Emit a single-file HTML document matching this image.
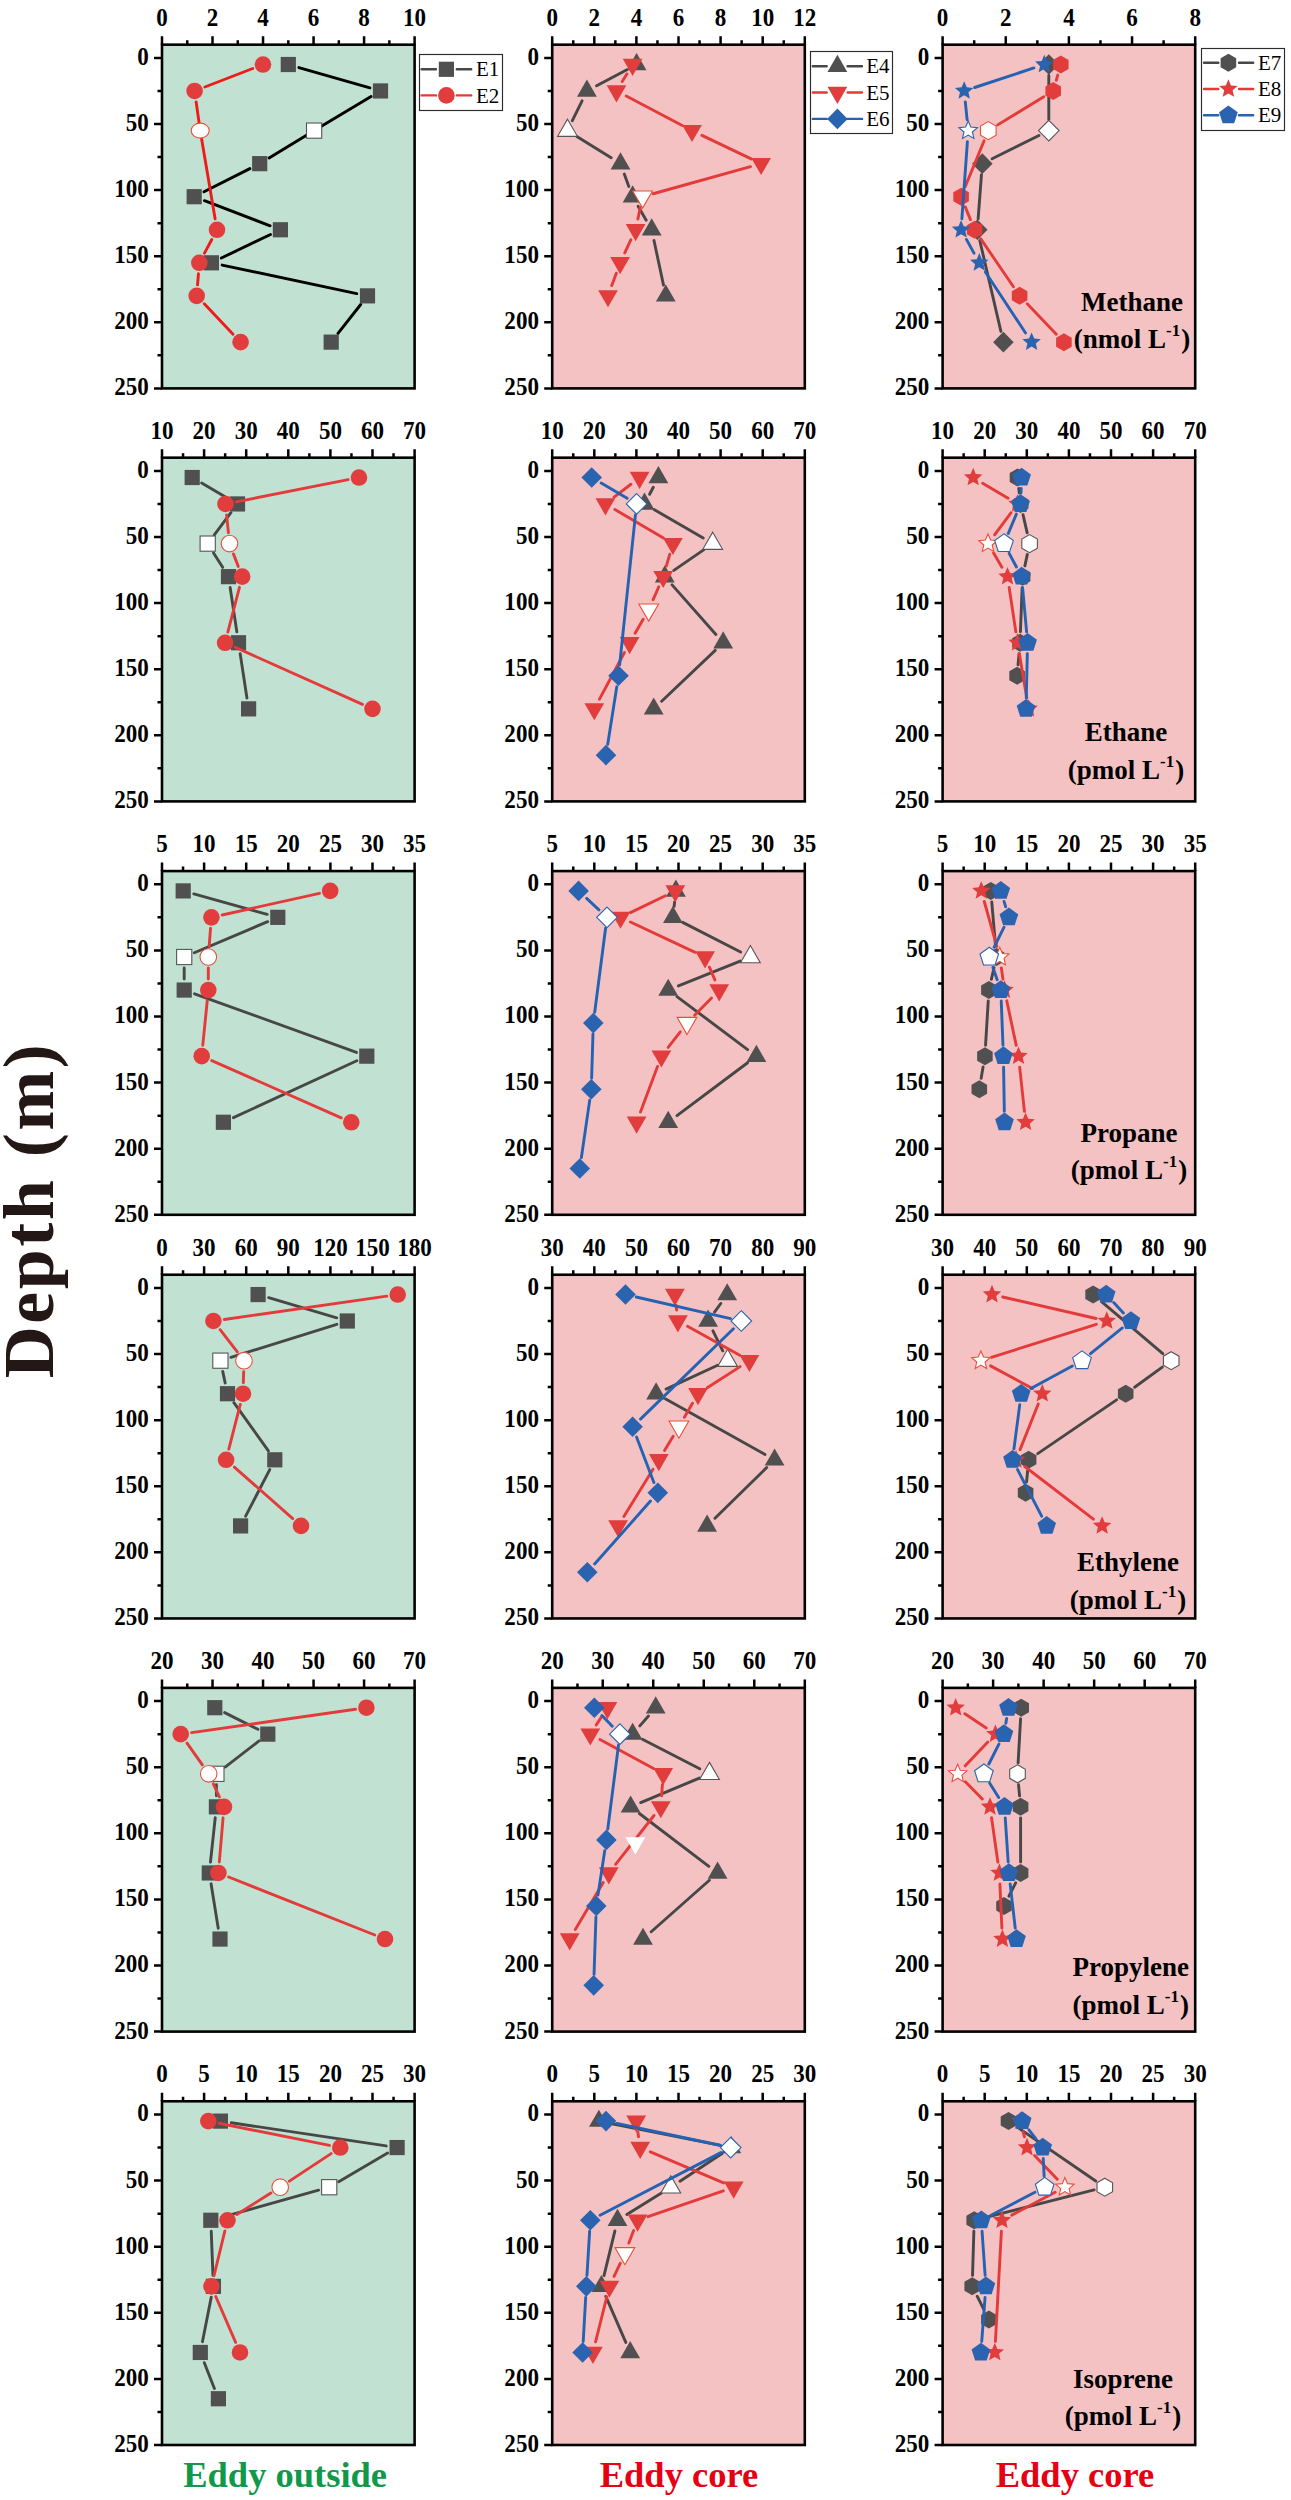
<!DOCTYPE html>
<html><head><meta charset="utf-8"><title>Depth profiles</title>
<style>html,body{margin:0;padding:0;background:#fff;}body{width:1291px;height:2500px;overflow:hidden;}svg{display:block;}</style>
</head><body>
<svg width="1291" height="2500" viewBox="0 0 1291 2500">
<rect width="1291" height="2500" fill="#fff"/>
<rect x="162" y="44.68" width="252.6" height="343.72" fill="#c1e2d3"/>
<path d="M298.87 67.54L369.93 87.92M371.06 96.59L320.11 127.02M308.12 134.24L269.1 157.95M249.88 168.62L204.02 191.75M204.47 200.65L270.13 225.82M270.48 234.51L221.32 258.06M222.16 265.09L356.74 293.58M360.71 304.51L337.99 333.48" stroke="#000000" stroke-width="2.9" stroke-linecap="round" fill="none"/>
<rect x="280.7" y="56.91" width="15.2" height="15.2" fill="#505050"/>
<rect x="372.9" y="83.35" width="15.2" height="15.2" fill="#505050"/>
<rect x="306.5" y="123.01" width="15.2" height="15.2" fill="#fff" stroke="#555" stroke-width="1.1"/>
<rect x="252.1" y="156.06" width="15.2" height="15.2" fill="#505050"/>
<rect x="186.6" y="189.11" width="15.2" height="15.2" fill="#505050"/>
<rect x="272.8" y="222.16" width="15.2" height="15.2" fill="#505050"/>
<rect x="203.8" y="255.21" width="15.2" height="15.2" fill="#505050"/>
<rect x="359.9" y="288.26" width="15.2" height="15.2" fill="#505050"/>
<rect x="323.6" y="334.53" width="15.2" height="15.2" fill="#505050"/>
<path d="M252.74 68.48L204.86 86.98M196.14 101.84L199.22 123.68M201.37 137.51L215.16 218.91M211.81 239.46L204.49 253.11M198.44 273.78L197.56 284.89M204.27 303.84L233.03 334.15" stroke="#ee1b1b" stroke-width="2.9" stroke-linecap="round" fill="none"/>
<circle cx="263" cy="64.51" r="8.3" fill="#e23d3d"/>
<circle cx="194.6" cy="90.95" r="8.3" fill="#e23d3d"/>
<ellipse cx="200.2" cy="130.61" rx="9" ry="7.5" fill="#fff" stroke="#e8503a" stroke-width="1.1"/>
<circle cx="217" cy="229.76" r="8.3" fill="#e23d3d"/>
<circle cx="199.3" cy="262.81" r="8.3" fill="#e23d3d"/>
<circle cx="196.7" cy="295.86" r="8.3" fill="#e23d3d"/>
<circle cx="240.6" cy="342.13" r="8.3" fill="#e23d3d"/>
<rect x="162" y="44.68" width="252.6" height="343.72" fill="none" stroke="#000" stroke-width="2.6"/>
<path d="M162 44.68V36.18M187.26 44.68V40.18M212.52 44.68V36.18M237.78 44.68V40.18M263.04 44.68V36.18M288.3 44.68V40.18M313.56 44.68V36.18M338.82 44.68V40.18M364.08 44.68V36.18M389.34 44.68V40.18M414.6 44.68V36.18M162 57.9H154M162 90.95H157.5M162 124H154M162 157.05H157.5M162 190.1H154M162 223.15H157.5M162 256.2H154M162 289.25H157.5M162 322.3H154M162 355.35H157.5M162 388.4H154" stroke="#000" stroke-width="2.5" fill="none"/>
<g font-family="Liberation Serif, serif" font-weight="bold" font-size="24" fill="#000">
<text transform="translate(162 25.78) scale(0.96 1.07)" text-anchor="middle">0</text>
<text transform="translate(212.52 25.78) scale(0.96 1.07)" text-anchor="middle">2</text>
<text transform="translate(263.04 25.78) scale(0.96 1.07)" text-anchor="middle">4</text>
<text transform="translate(313.56 25.78) scale(0.96 1.07)" text-anchor="middle">6</text>
<text transform="translate(364.08 25.78) scale(0.96 1.07)" text-anchor="middle">8</text>
<text transform="translate(414.6 25.78) scale(0.96 1.07)" text-anchor="middle">10</text>
<text transform="translate(148.7 64.8) scale(0.96 1.07)" text-anchor="end">0</text>
<text transform="translate(148.7 130.9) scale(0.96 1.07)" text-anchor="end">50</text>
<text transform="translate(148.7 197) scale(0.96 1.07)" text-anchor="end">100</text>
<text transform="translate(148.7 263.1) scale(0.96 1.07)" text-anchor="end">150</text>
<text transform="translate(148.7 329.2) scale(0.96 1.07)" text-anchor="end">200</text>
<text transform="translate(148.7 395.3) scale(0.96 1.07)" text-anchor="end">250</text>
</g>
<rect x="552.2" y="44.68" width="252.6" height="343.72" fill="#f4c2c3"/>
<path d="M626.89 69.68L596.61 85.78M582.07 100.83L572.33 120.73M576.83 136.43L611.17 157.84M624.28 173.99L628.82 186.38M638.1 206.23L646.2 220.24M653.99 240.52L663.51 285.1" stroke="#474747" stroke-width="2.9" stroke-linecap="round" fill="none"/>
<polygon points="636.6,53.08 646.5,70.23 626.7,70.23" fill="#505050"/>
<polygon points="586.9,79.52 596.8,96.67 577,96.67" fill="#505050"/>
<polygon points="567.5,119.18 577.4,136.33 557.6,136.33" fill="#fff" stroke="#555" stroke-width="1.1"/>
<polygon points="620.5,152.23 630.4,169.38 610.6,169.38" fill="#505050"/>
<polygon points="632.6,185.28 642.5,202.43 622.7,202.43" fill="#505050"/>
<polygon points="651.7,218.33 661.6,235.48 641.8,235.48" fill="#505050"/>
<polygon points="665.8,284.43 675.7,301.58 655.9,301.58" fill="#505050"/>
<path d="M626.88 73.91L622.22 81.55M626.24 96.07L682.26 125.49M701.92 135.36L751.18 158.91M750.5 166.62L653.2 193.75M640.32 207.47L637.88 219M630.93 239.72L624.77 252.85M616.32 273.14L611.78 285.53" stroke="#e43a3a" stroke-width="2.9" stroke-linecap="round" fill="none"/>
<polygon points="632.6,75.94 642.5,58.79 622.7,58.79" fill="#e23d3d"/>
<polygon points="616.5,102.38 626.4,85.23 606.6,85.23" fill="#e23d3d"/>
<polygon points="692,142.04 701.9,124.89 682.1,124.89" fill="#e23d3d"/>
<polygon points="761.1,175.09 771,157.94 751.2,157.94" fill="#e23d3d"/>
<polygon points="642.6,208.14 652.5,190.99 632.7,190.99" fill="#fff" stroke="#e8503a" stroke-width="1.1"/>
<polygon points="635.6,241.19 645.5,224.04 625.7,224.04" fill="#e23d3d"/>
<polygon points="620.1,274.24 630,257.09 610.2,257.09" fill="#e23d3d"/>
<polygon points="608,307.29 617.9,290.14 598.1,290.14" fill="#e23d3d"/>
<rect x="552.2" y="44.68" width="252.6" height="343.72" fill="none" stroke="#000" stroke-width="2.6"/>
<path d="M552.2 44.68V36.18M573.25 44.68V40.18M594.3 44.68V36.18M615.35 44.68V40.18M636.4 44.68V36.18M657.45 44.68V40.18M678.5 44.68V36.18M699.55 44.68V40.18M720.6 44.68V36.18M741.65 44.68V40.18M762.7 44.68V36.18M783.75 44.68V40.18M804.8 44.68V36.18M552.2 57.9H544.2M552.2 90.95H547.7M552.2 124H544.2M552.2 157.05H547.7M552.2 190.1H544.2M552.2 223.15H547.7M552.2 256.2H544.2M552.2 289.25H547.7M552.2 322.3H544.2M552.2 355.35H547.7M552.2 388.4H544.2" stroke="#000" stroke-width="2.5" fill="none"/>
<g font-family="Liberation Serif, serif" font-weight="bold" font-size="24" fill="#000">
<text transform="translate(552.2 25.78) scale(0.96 1.07)" text-anchor="middle">0</text>
<text transform="translate(594.3 25.78) scale(0.96 1.07)" text-anchor="middle">2</text>
<text transform="translate(636.4 25.78) scale(0.96 1.07)" text-anchor="middle">4</text>
<text transform="translate(678.5 25.78) scale(0.96 1.07)" text-anchor="middle">6</text>
<text transform="translate(720.6 25.78) scale(0.96 1.07)" text-anchor="middle">8</text>
<text transform="translate(762.7 25.78) scale(0.96 1.07)" text-anchor="middle">10</text>
<text transform="translate(804.8 25.78) scale(0.96 1.07)" text-anchor="middle">12</text>
<text transform="translate(538.9 64.8) scale(0.96 1.07)" text-anchor="end">0</text>
<text transform="translate(538.9 130.9) scale(0.96 1.07)" text-anchor="end">50</text>
<text transform="translate(538.9 197) scale(0.96 1.07)" text-anchor="end">100</text>
<text transform="translate(538.9 263.1) scale(0.96 1.07)" text-anchor="end">150</text>
<text transform="translate(538.9 329.2) scale(0.96 1.07)" text-anchor="end">200</text>
<text transform="translate(538.9 395.3) scale(0.96 1.07)" text-anchor="end">250</text>
</g>
<rect x="942.6" y="44.68" width="252.6" height="343.72" fill="#f4c2c3"/>
<path d="M1048.8 75.51L1048.8 119.61M1038.95 135.51L992.15 158.76M981.47 174.63L978.13 218.79M979.79 240.47L1000.91 331.42" stroke="#474747" stroke-width="2.9" stroke-linecap="round" fill="none"/>
<polygon points="1048.8,54.21 1059.1,64.51 1048.8,74.81 1038.5,64.51" fill="#505050"/>
<polygon points="1048.8,120.31 1059.1,130.61 1048.8,140.91 1038.5,130.61" fill="#fff" stroke="#555" stroke-width="1.1"/>
<polygon points="982.3,153.36 992.6,163.66 982.3,173.96 972,163.66" fill="#505050"/>
<polygon points="977.3,219.46 987.6,229.76 977.3,240.06 967,229.76" fill="#505050"/>
<polygon points="1003.4,331.83 1013.7,342.13 1003.4,352.43 993.1,342.13" fill="#505050"/>
<path d="M1057.76 75.08L1056.24 80.38M1043.81 96.69L997.69 124.87M984.11 140.78L965.29 186.54M965.26 206.89L970.44 219.58M980.79 238.85L1013.41 286.77M1027.21 303.81L1056.29 334.18" stroke="#e43a3a" stroke-width="2.9" stroke-linecap="round" fill="none"/>
<polygon points="1060.8,55.51 1068.59,60.01 1068.59,69.01 1060.8,73.51 1053.01,69.01 1053.01,60.01" fill="#e23d3d"/>
<polygon points="1053.2,81.95 1060.99,86.45 1060.99,95.45 1053.2,99.95 1045.41,95.45 1045.41,86.45" fill="#e23d3d"/>
<polygon points="988.3,121.61 996.09,126.11 996.09,135.11 988.3,139.61 980.51,135.11 980.51,126.11" fill="#fff" stroke="#e8503a" stroke-width="1.1"/>
<polygon points="961.1,187.71 968.89,192.21 968.89,201.21 961.1,205.71 953.31,201.21 953.31,192.21" fill="#e23d3d"/>
<polygon points="974.6,220.76 982.39,225.26 982.39,234.26 974.6,238.76 966.81,234.26 966.81,225.26" fill="#e23d3d"/>
<polygon points="1019.6,286.86 1027.39,291.36 1027.39,300.36 1019.6,304.86 1011.81,300.36 1011.81,291.36" fill="#e23d3d"/>
<polygon points="1063.9,333.13 1071.69,337.63 1071.69,346.63 1063.9,351.13 1056.11,346.63 1056.11,337.63" fill="#e23d3d"/>
<path d="M1033.85 67.96L974.65 87.5M965.3 101.89L967.1 119.67M967.41 141.58L961.89 218.79M966.41 239.4L973.99 253.17M985.36 271.99L1025.54 332.95" stroke="#2462b3" stroke-width="2.9" stroke-linecap="round" fill="none"/>
<polygon points="1044.3,54.81 1046.9,60.93 1053.53,61.51 1048.51,65.88 1050,72.36 1044.3,68.93 1038.6,72.36 1040.09,65.88 1035.07,61.51 1041.7,60.93" fill="#2a63b0"/>
<polygon points="964.2,81.25 966.8,87.37 973.43,87.95 968.41,92.32 969.9,98.8 964.2,95.37 958.5,98.8 959.99,92.32 954.97,87.95 961.6,87.37" fill="#2a63b0"/>
<polygon points="968.2,120.91 970.8,127.03 977.43,127.61 972.41,131.98 973.9,138.46 968.2,135.03 962.5,138.46 963.99,131.98 958.97,127.61 965.6,127.03" fill="#fff" stroke="#2a63b0" stroke-width="1.1"/>
<polygon points="961.1,220.06 963.7,226.18 970.33,226.76 965.31,231.13 966.8,237.61 961.1,234.18 955.4,237.61 956.89,231.13 951.87,226.76 958.5,226.18" fill="#2a63b0"/>
<polygon points="979.3,253.11 981.9,259.23 988.53,259.81 983.51,264.18 985,270.66 979.3,267.23 973.6,270.66 975.09,264.18 970.07,259.81 976.7,259.23" fill="#2a63b0"/>
<polygon points="1031.6,332.43 1034.2,338.55 1040.83,339.13 1035.81,343.5 1037.3,349.98 1031.6,346.55 1025.9,349.98 1027.39,343.5 1022.37,339.13 1029,338.55" fill="#2a63b0"/>
<rect x="942.6" y="44.68" width="252.6" height="343.72" fill="none" stroke="#000" stroke-width="2.6"/>
<path d="M942.6 44.68V36.18M974.18 44.68V40.18M1005.75 44.68V36.18M1037.33 44.68V40.18M1068.9 44.68V36.18M1100.47 44.68V40.18M1132.05 44.68V36.18M1163.62 44.68V40.18M1195.2 44.68V36.18M942.6 57.9H934.6M942.6 90.95H938.1M942.6 124H934.6M942.6 157.05H938.1M942.6 190.1H934.6M942.6 223.15H938.1M942.6 256.2H934.6M942.6 289.25H938.1M942.6 322.3H934.6M942.6 355.35H938.1M942.6 388.4H934.6" stroke="#000" stroke-width="2.5" fill="none"/>
<g font-family="Liberation Serif, serif" font-weight="bold" font-size="24" fill="#000">
<text transform="translate(942.6 25.78) scale(0.96 1.07)" text-anchor="middle">0</text>
<text transform="translate(1005.75 25.78) scale(0.96 1.07)" text-anchor="middle">2</text>
<text transform="translate(1068.9 25.78) scale(0.96 1.07)" text-anchor="middle">4</text>
<text transform="translate(1132.05 25.78) scale(0.96 1.07)" text-anchor="middle">6</text>
<text transform="translate(1195.2 25.78) scale(0.96 1.07)" text-anchor="middle">8</text>
<text transform="translate(929.3 64.8) scale(0.96 1.07)" text-anchor="end">0</text>
<text transform="translate(929.3 130.9) scale(0.96 1.07)" text-anchor="end">50</text>
<text transform="translate(929.3 197) scale(0.96 1.07)" text-anchor="end">100</text>
<text transform="translate(929.3 263.1) scale(0.96 1.07)" text-anchor="end">150</text>
<text transform="translate(929.3 329.2) scale(0.96 1.07)" text-anchor="end">200</text>
<text transform="translate(929.3 395.3) scale(0.96 1.07)" text-anchor="end">250</text>
</g>
<g font-family="Liberation Serif, serif" font-weight="bold" font-size="27" fill="#000" text-anchor="middle">
<text x="1132" y="311">Methane</text>
<text x="1132" y="347.7">(nmol L<tspan font-size="17" dy="-11.8">-1</tspan><tspan dy="11.8" dx="1">)</tspan></text>
</g>
<rect x="162" y="457.68" width="252.6" height="343.72" fill="#c1e2d3"/>
<path d="M201.7 483.05L228 498.41M230.89 512.74L214.31 534.82M213.56 552.92L222.64 567.35M230.15 587.54L236.85 631.88M240.16 653.63L246.94 697.99" stroke="#474747" stroke-width="2.9" stroke-linecap="round" fill="none"/>
<rect x="184.6" y="469.91" width="15.2" height="15.2" fill="#505050"/>
<rect x="229.9" y="496.35" width="15.2" height="15.2" fill="#505050"/>
<rect x="200.1" y="536.01" width="15.2" height="15.2" fill="#fff" stroke="#555" stroke-width="1.1"/>
<rect x="220.9" y="569.06" width="15.2" height="15.2" fill="#505050"/>
<rect x="230.9" y="635.16" width="15.2" height="15.2" fill="#505050"/>
<rect x="241" y="701.26" width="15.2" height="15.2" fill="#505050"/>
<path d="M348.21 479.65L236.29 501.81M226.6 514.89L228.4 532.67M233.45 553.88L238.25 566.39M239.45 587.31L227.85 632.11M235.14 647.26L362.46 704.36" stroke="#e43a3a" stroke-width="2.9" stroke-linecap="round" fill="none"/>
<circle cx="359" cy="477.51" r="8.3" fill="#e23d3d"/>
<circle cx="225.5" cy="503.95" r="8.3" fill="#e23d3d"/>
<circle cx="229.5" cy="543.61" r="8.3" fill="#fff" stroke="#e8503a" stroke-width="1.1"/>
<circle cx="242.2" cy="576.66" r="8.3" fill="#e23d3d"/>
<circle cx="225.1" cy="642.76" r="8.3" fill="#e23d3d"/>
<circle cx="372.5" cy="708.86" r="8.3" fill="#e23d3d"/>
<rect x="162" y="457.68" width="252.6" height="343.72" fill="none" stroke="#000" stroke-width="2.6"/>
<path d="M162 457.68V449.18M183.05 457.68V453.18M204.1 457.68V449.18M225.15 457.68V453.18M246.2 457.68V449.18M267.25 457.68V453.18M288.3 457.68V449.18M309.35 457.68V453.18M330.4 457.68V449.18M351.45 457.68V453.18M372.5 457.68V449.18M393.55 457.68V453.18M414.6 457.68V449.18M162 470.9H154M162 503.95H157.5M162 537H154M162 570.05H157.5M162 603.1H154M162 636.15H157.5M162 669.2H154M162 702.25H157.5M162 735.3H154M162 768.35H157.5M162 801.4H154" stroke="#000" stroke-width="2.5" fill="none"/>
<g font-family="Liberation Serif, serif" font-weight="bold" font-size="24" fill="#000">
<text transform="translate(162 438.78) scale(0.96 1.07)" text-anchor="middle">10</text>
<text transform="translate(204.1 438.78) scale(0.96 1.07)" text-anchor="middle">20</text>
<text transform="translate(246.2 438.78) scale(0.96 1.07)" text-anchor="middle">30</text>
<text transform="translate(288.3 438.78) scale(0.96 1.07)" text-anchor="middle">40</text>
<text transform="translate(330.4 438.78) scale(0.96 1.07)" text-anchor="middle">50</text>
<text transform="translate(372.5 438.78) scale(0.96 1.07)" text-anchor="middle">60</text>
<text transform="translate(414.6 438.78) scale(0.96 1.07)" text-anchor="middle">70</text>
<text transform="translate(148.7 477.8) scale(0.96 1.07)" text-anchor="end">0</text>
<text transform="translate(148.7 543.9) scale(0.96 1.07)" text-anchor="end">50</text>
<text transform="translate(148.7 610) scale(0.96 1.07)" text-anchor="end">100</text>
<text transform="translate(148.7 676.1) scale(0.96 1.07)" text-anchor="end">150</text>
<text transform="translate(148.7 742.2) scale(0.96 1.07)" text-anchor="end">200</text>
<text transform="translate(148.7 808.3) scale(0.96 1.07)" text-anchor="end">250</text>
</g>
<rect x="552.2" y="457.68" width="252.6" height="343.72" fill="#f4c2c3"/>
<path d="M653.28 487.25L649.62 494.21M654.01 509.48L703.19 538.08M703.65 549.86L673.85 570.41M672.08 584.9L715.92 634.52M715.23 650.34L661.67 701.28" stroke="#474747" stroke-width="2.9" stroke-linecap="round" fill="none"/>
<polygon points="658.4,466.08 668.3,483.23 648.5,483.23" fill="#505050"/>
<polygon points="644.5,492.52 654.4,509.67 634.6,509.67" fill="#505050"/>
<polygon points="712.7,532.18 722.6,549.33 702.8,549.33" fill="#fff" stroke="#555" stroke-width="1.1"/>
<polygon points="664.8,565.23 674.7,582.38 654.9,582.38" fill="#505050"/>
<polygon points="723.2,631.33 733.1,648.48 713.3,648.48" fill="#505050"/>
<polygon points="653.7,697.43 663.6,714.58 643.8,714.58" fill="#505050"/>
<path d="M630.9 484.24L614.1 497.22M614.88 509.52L663.42 538.04M669.8 554.16L666.3 566.11M658.78 586.73L653.12 599.64M643.2 619.23L635.1 633.24M624.42 652.46L599.48 699.16" stroke="#e43a3a" stroke-width="2.9" stroke-linecap="round" fill="none"/>
<polygon points="639.6,488.94 649.5,471.79 629.7,471.79" fill="#e23d3d"/>
<polygon points="605.4,515.38 615.3,498.23 595.5,498.23" fill="#e23d3d"/>
<polygon points="672.9,555.04 682.8,537.89 663,537.89" fill="#e23d3d"/>
<polygon points="663.2,588.09 673.1,570.94 653.3,570.94" fill="#e23d3d"/>
<polygon points="648.7,621.14 658.6,603.99 638.8,603.99" fill="#fff" stroke="#e8503a" stroke-width="1.1"/>
<polygon points="629.6,654.19 639.5,637.04 619.7,637.04" fill="#e23d3d"/>
<polygon points="594.3,720.29 604.2,703.14 584.4,703.14" fill="#e23d3d"/>
<path d="M601.18 483.09L627.12 498.37M635.45 514.89L619.65 664.87M616.79 686.68L607.71 744.26" stroke="#2462b3" stroke-width="2.9" stroke-linecap="round" fill="none"/>
<polygon points="591.7,467.21 602,477.51 591.7,487.81 581.4,477.51" fill="#2a63b0"/>
<polygon points="636.6,493.65 646.9,503.95 636.6,514.25 626.3,503.95" fill="#fff" stroke="#2a63b0" stroke-width="1.1"/>
<polygon points="618.5,665.51 628.8,675.81 618.5,686.11 608.2,675.81" fill="#2a63b0"/>
<polygon points="606,744.83 616.3,755.13 606,765.43 595.7,755.13" fill="#2a63b0"/>
<rect x="552.2" y="457.68" width="252.6" height="343.72" fill="none" stroke="#000" stroke-width="2.6"/>
<path d="M552.2 457.68V449.18M573.25 457.68V453.18M594.3 457.68V449.18M615.35 457.68V453.18M636.4 457.68V449.18M657.45 457.68V453.18M678.5 457.68V449.18M699.55 457.68V453.18M720.6 457.68V449.18M741.65 457.68V453.18M762.7 457.68V449.18M783.75 457.68V453.18M804.8 457.68V449.18M552.2 470.9H544.2M552.2 503.95H547.7M552.2 537H544.2M552.2 570.05H547.7M552.2 603.1H544.2M552.2 636.15H547.7M552.2 669.2H544.2M552.2 702.25H547.7M552.2 735.3H544.2M552.2 768.35H547.7M552.2 801.4H544.2" stroke="#000" stroke-width="2.5" fill="none"/>
<g font-family="Liberation Serif, serif" font-weight="bold" font-size="24" fill="#000">
<text transform="translate(552.2 438.78) scale(0.96 1.07)" text-anchor="middle">10</text>
<text transform="translate(594.3 438.78) scale(0.96 1.07)" text-anchor="middle">20</text>
<text transform="translate(636.4 438.78) scale(0.96 1.07)" text-anchor="middle">30</text>
<text transform="translate(678.5 438.78) scale(0.96 1.07)" text-anchor="middle">40</text>
<text transform="translate(720.6 438.78) scale(0.96 1.07)" text-anchor="middle">50</text>
<text transform="translate(762.7 438.78) scale(0.96 1.07)" text-anchor="middle">60</text>
<text transform="translate(804.8 438.78) scale(0.96 1.07)" text-anchor="middle">70</text>
<text transform="translate(538.9 477.8) scale(0.96 1.07)" text-anchor="end">0</text>
<text transform="translate(538.9 543.9) scale(0.96 1.07)" text-anchor="end">50</text>
<text transform="translate(538.9 610) scale(0.96 1.07)" text-anchor="end">100</text>
<text transform="translate(538.9 676.1) scale(0.96 1.07)" text-anchor="end">150</text>
<text transform="translate(538.9 742.2) scale(0.96 1.07)" text-anchor="end">200</text>
<text transform="translate(538.9 808.3) scale(0.96 1.07)" text-anchor="end">250</text>
</g>
<rect x="942.6" y="457.68" width="252.6" height="343.72" fill="#f4c2c3"/>
<path d="M1018.78 488.44L1019.32 493.02M1023.03 514.68L1027.17 532.88M1027.32 554.37L1024.88 565.9M1022.17 587.65L1020.43 631.77M1019.04 653.72L1018.06 664.85" stroke="#474747" stroke-width="2.9" stroke-linecap="round" fill="none"/>
<polygon points="1017.5,468.51 1025.29,473.01 1025.29,482.01 1017.5,486.51 1009.71,482.01 1009.71,473.01" fill="#505050"/>
<polygon points="1020.6,494.95 1028.39,499.45 1028.39,508.45 1020.6,512.95 1012.81,508.45 1012.81,499.45" fill="#505050"/>
<polygon points="1029.6,534.61 1037.39,539.11 1037.39,548.11 1029.6,552.61 1021.81,548.11 1021.81,539.11" fill="#fff" stroke="#555" stroke-width="1.1"/>
<polygon points="1022.6,567.66 1030.39,572.16 1030.39,581.16 1022.6,585.66 1014.81,581.16 1014.81,572.16" fill="#505050"/>
<polygon points="1020,633.76 1027.79,638.26 1027.79,647.26 1020,651.76 1012.21,647.26 1012.21,638.26" fill="#505050"/>
<polygon points="1017.1,666.81 1024.89,671.31 1024.89,680.31 1017.1,684.81 1009.31,680.31 1009.31,671.31" fill="#505050"/>
<path d="M982.65 483.15L1008.05 498.31M1010.93 512.78L994.57 534.78M993.59 553.08L1001.91 567.19M1009.15 587.54L1015.85 631.88M1019.32 653.61L1026.78 698.01" stroke="#e43a3a" stroke-width="2.9" stroke-linecap="round" fill="none"/>
<polygon points="973.2,467.81 975.8,473.93 982.43,474.51 977.41,478.88 978.9,485.36 973.2,481.93 967.5,485.36 968.99,478.88 963.97,474.51 970.6,473.93" fill="#e23d3d"/>
<polygon points="1017.5,494.25 1020.1,500.37 1026.73,500.95 1021.71,505.32 1023.2,511.8 1017.5,508.37 1011.8,511.8 1013.29,505.32 1008.27,500.95 1014.9,500.37" fill="#e23d3d"/>
<polygon points="988,533.91 990.6,540.03 997.23,540.61 992.21,544.98 993.7,551.46 988,548.03 982.3,551.46 983.79,544.98 978.77,540.61 985.4,540.03" fill="#fff" stroke="#e8503a" stroke-width="1.1"/>
<polygon points="1007.5,566.96 1010.1,573.08 1016.73,573.66 1011.71,578.03 1013.2,584.51 1007.5,581.08 1001.8,584.51 1003.29,578.03 998.27,573.66 1004.9,573.08" fill="#e23d3d"/>
<polygon points="1017.5,633.06 1020.1,639.18 1026.73,639.76 1021.71,644.13 1023.2,650.61 1017.5,647.18 1011.8,650.61 1013.29,644.13 1008.27,639.76 1014.9,639.18" fill="#e23d3d"/>
<polygon points="1028.6,699.16 1031.2,705.28 1037.83,705.86 1032.81,710.23 1034.3,716.71 1028.6,713.28 1022.9,716.71 1024.39,710.23 1019.37,705.86 1026,705.28" fill="#e23d3d"/>
<path d="M1021.18 488.5L1021.02 492.96M1016.35 514.1L1008.25 533.46M1009.17 553.32L1016.43 566.95M1022.59 587.61L1026.61 631.81M1027.33 653.76L1026.27 697.86" stroke="#2462b3" stroke-width="2.9" stroke-linecap="round" fill="none"/>
<polygon points="1021.6,467.71 1030.92,474.48 1027.36,485.44 1015.84,485.44 1012.28,474.48" fill="#2a63b0"/>
<polygon points="1020.6,494.15 1029.92,500.92 1026.36,511.88 1014.84,511.88 1011.28,500.92" fill="#2a63b0"/>
<polygon points="1004,533.81 1013.32,540.58 1009.76,551.54 998.24,551.54 994.68,540.58" fill="#fff" stroke="#2a63b0" stroke-width="1.1"/>
<polygon points="1021.6,566.86 1030.92,573.63 1027.36,584.59 1015.84,584.59 1012.28,573.63" fill="#2a63b0"/>
<polygon points="1027.6,632.96 1036.92,639.73 1033.36,650.69 1021.84,650.69 1018.28,639.73" fill="#2a63b0"/>
<polygon points="1026,699.06 1035.32,705.83 1031.76,716.79 1020.24,716.79 1016.68,705.83" fill="#2a63b0"/>
<rect x="942.6" y="457.68" width="252.6" height="343.72" fill="none" stroke="#000" stroke-width="2.6"/>
<path d="M942.6 457.68V449.18M963.65 457.68V453.18M984.7 457.68V449.18M1005.75 457.68V453.18M1026.8 457.68V449.18M1047.85 457.68V453.18M1068.9 457.68V449.18M1089.95 457.68V453.18M1111 457.68V449.18M1132.05 457.68V453.18M1153.1 457.68V449.18M1174.15 457.68V453.18M1195.2 457.68V449.18M942.6 470.9H934.6M942.6 503.95H938.1M942.6 537H934.6M942.6 570.05H938.1M942.6 603.1H934.6M942.6 636.15H938.1M942.6 669.2H934.6M942.6 702.25H938.1M942.6 735.3H934.6M942.6 768.35H938.1M942.6 801.4H934.6" stroke="#000" stroke-width="2.5" fill="none"/>
<g font-family="Liberation Serif, serif" font-weight="bold" font-size="24" fill="#000">
<text transform="translate(942.6 438.78) scale(0.96 1.07)" text-anchor="middle">10</text>
<text transform="translate(984.7 438.78) scale(0.96 1.07)" text-anchor="middle">20</text>
<text transform="translate(1026.8 438.78) scale(0.96 1.07)" text-anchor="middle">30</text>
<text transform="translate(1068.9 438.78) scale(0.96 1.07)" text-anchor="middle">40</text>
<text transform="translate(1111 438.78) scale(0.96 1.07)" text-anchor="middle">50</text>
<text transform="translate(1153.1 438.78) scale(0.96 1.07)" text-anchor="middle">60</text>
<text transform="translate(1195.2 438.78) scale(0.96 1.07)" text-anchor="middle">70</text>
<text transform="translate(929.3 477.8) scale(0.96 1.07)" text-anchor="end">0</text>
<text transform="translate(929.3 543.9) scale(0.96 1.07)" text-anchor="end">50</text>
<text transform="translate(929.3 610) scale(0.96 1.07)" text-anchor="end">100</text>
<text transform="translate(929.3 676.1) scale(0.96 1.07)" text-anchor="end">150</text>
<text transform="translate(929.3 742.2) scale(0.96 1.07)" text-anchor="end">200</text>
<text transform="translate(929.3 808.3) scale(0.96 1.07)" text-anchor="end">250</text>
</g>
<g font-family="Liberation Serif, serif" font-weight="bold" font-size="27" fill="#000" text-anchor="middle">
<text x="1126" y="741.4">Ethane</text>
<text x="1126" y="779">(pmol L<tspan font-size="17" dy="-11.8">-1</tspan><tspan dy="11.8" dx="1">)</tspan></text>
</g>
<rect x="162" y="871.08" width="252.6" height="343.72" fill="#c1e2d3"/>
<path d="M193.79 893.87L267.21 914.39M267.67 921.64L194.33 952.72M184.2 968.01L184.2 979.06M194.54 993.8L356.46 1052.42M356.81 1060.76L233.39 1117.66" stroke="#474747" stroke-width="2.9" stroke-linecap="round" fill="none"/>
<rect x="175.6" y="883.31" width="15.2" height="15.2" fill="#505050"/>
<rect x="270.2" y="909.75" width="15.2" height="15.2" fill="#505050"/>
<rect x="176.6" y="949.41" width="15.2" height="15.2" fill="#fff" stroke="#555" stroke-width="1.1"/>
<rect x="176.6" y="982.46" width="15.2" height="15.2" fill="#505050"/>
<rect x="359.2" y="1048.56" width="15.2" height="15.2" fill="#505050"/>
<rect x="215.8" y="1114.66" width="15.2" height="15.2" fill="#505050"/>
<path d="M319.46 893.3L222.14 914.96M210.54 928.32L209.16 946.04M208.3 968.01L208.3 979.06M207.21 1001.01L202.79 1045.21M211.76 1060.61L341.24 1117.81" stroke="#e43a3a" stroke-width="2.9" stroke-linecap="round" fill="none"/>
<circle cx="330.2" cy="890.91" r="8.3" fill="#e23d3d"/>
<circle cx="211.4" cy="917.35" r="8.3" fill="#e23d3d"/>
<circle cx="208.3" cy="957.01" r="8.3" fill="#fff" stroke="#e8503a" stroke-width="1.1"/>
<circle cx="208.3" cy="990.06" r="8.3" fill="#e23d3d"/>
<circle cx="201.7" cy="1056.16" r="8.3" fill="#e23d3d"/>
<circle cx="351.3" cy="1122.26" r="8.3" fill="#e23d3d"/>
<rect x="162" y="871.08" width="252.6" height="343.72" fill="none" stroke="#000" stroke-width="2.6"/>
<path d="M162 871.08V862.58M183.05 871.08V866.58M204.1 871.08V862.58M225.15 871.08V866.58M246.2 871.08V862.58M267.25 871.08V866.58M288.3 871.08V862.58M309.35 871.08V866.58M330.4 871.08V862.58M351.45 871.08V866.58M372.5 871.08V862.58M393.55 871.08V866.58M414.6 871.08V862.58M162 884.3H154M162 917.35H157.5M162 950.4H154M162 983.45H157.5M162 1016.5H154M162 1049.55H157.5M162 1082.6H154M162 1115.65H157.5M162 1148.7H154M162 1181.75H157.5M162 1214.8H154" stroke="#000" stroke-width="2.5" fill="none"/>
<g font-family="Liberation Serif, serif" font-weight="bold" font-size="24" fill="#000">
<text transform="translate(162 852.18) scale(0.96 1.07)" text-anchor="middle">5</text>
<text transform="translate(204.1 852.18) scale(0.96 1.07)" text-anchor="middle">10</text>
<text transform="translate(246.2 852.18) scale(0.96 1.07)" text-anchor="middle">15</text>
<text transform="translate(288.3 852.18) scale(0.96 1.07)" text-anchor="middle">20</text>
<text transform="translate(330.4 852.18) scale(0.96 1.07)" text-anchor="middle">25</text>
<text transform="translate(372.5 852.18) scale(0.96 1.07)" text-anchor="middle">30</text>
<text transform="translate(414.6 852.18) scale(0.96 1.07)" text-anchor="middle">35</text>
<text transform="translate(148.7 891.2) scale(0.96 1.07)" text-anchor="end">0</text>
<text transform="translate(148.7 957.3) scale(0.96 1.07)" text-anchor="end">50</text>
<text transform="translate(148.7 1023.4) scale(0.96 1.07)" text-anchor="end">100</text>
<text transform="translate(148.7 1089.5) scale(0.96 1.07)" text-anchor="end">150</text>
<text transform="translate(148.7 1155.6) scale(0.96 1.07)" text-anchor="end">200</text>
<text transform="translate(148.7 1221.7) scale(0.96 1.07)" text-anchor="end">250</text>
</g>
<rect x="552.2" y="871.08" width="252.6" height="343.72" fill="#f4c2c3"/>
<path d="M674.66 901.84L674.14 906.42M682.69 922.36L740.61 952M740.19 961.11L678.41 985.96M677 996.66L747.6 1049.56M747.6 1062.76L677 1115.66" stroke="#474747" stroke-width="2.9" stroke-linecap="round" fill="none"/>
<polygon points="675.9,879.48 685.8,896.63 666,896.63" fill="#505050"/>
<polygon points="672.9,905.92 682.8,923.07 663,923.07" fill="#505050"/>
<polygon points="750.4,945.58 760.3,962.73 740.5,962.73" fill="#fff" stroke="#555" stroke-width="1.1"/>
<polygon points="668.2,978.63 678.1,995.78 658.3,995.78" fill="#505050"/>
<polygon points="756.4,1044.73 766.3,1061.88 746.5,1061.88" fill="#505050"/>
<polygon points="668.2,1110.83 678.1,1127.98 658.3,1127.98" fill="#505050"/>
<path d="M665.39 895.69L630.41 912.57M630.46 922.02L695.14 952.34M709.42 967.13L714.88 979.94M711.52 997.94L694.68 1015.23M680.26 1031.81L668.14 1047.46M657.54 1066.46L640.46 1111.96" stroke="#e43a3a" stroke-width="2.9" stroke-linecap="round" fill="none"/>
<polygon points="675.3,902.34 685.2,885.19 665.4,885.19" fill="#e23d3d"/>
<polygon points="620.5,928.78 630.4,911.63 610.6,911.63" fill="#e23d3d"/>
<polygon points="705.1,968.44 715,951.29 695.2,951.29" fill="#e23d3d"/>
<polygon points="719.2,1001.49 729.1,984.34 709.3,984.34" fill="#e23d3d"/>
<polygon points="687,1034.54 696.9,1017.39 677.1,1017.39" fill="#fff" stroke="#e8503a" stroke-width="1.1"/>
<polygon points="661.4,1067.59 671.3,1050.44 651.5,1050.44" fill="#e23d3d"/>
<polygon points="636.6,1133.69 646.5,1116.54 626.7,1116.54" fill="#e23d3d"/>
<path d="M586.65 898.41L598.95 909.85M605.59 928.26L594.71 1012.2M592.97 1034.1L591.63 1078.22M589.72 1100.1L581.38 1157.64" stroke="#2462b3" stroke-width="2.9" stroke-linecap="round" fill="none"/>
<polygon points="578.6,880.61 588.9,890.91 578.6,901.21 568.3,890.91" fill="#2a63b0"/>
<polygon points="607,907.05 617.3,917.35 607,927.65 596.7,917.35" fill="#fff" stroke="#2a63b0" stroke-width="1.1"/>
<polygon points="593.3,1012.81 603.6,1023.11 593.3,1033.41 583,1023.11" fill="#2a63b0"/>
<polygon points="591.3,1078.91 601.6,1089.21 591.3,1099.51 581,1089.21" fill="#2a63b0"/>
<polygon points="579.8,1158.23 590.1,1168.53 579.8,1178.83 569.5,1168.53" fill="#2a63b0"/>
<rect x="552.2" y="871.08" width="252.6" height="343.72" fill="none" stroke="#000" stroke-width="2.6"/>
<path d="M552.2 871.08V862.58M573.25 871.08V866.58M594.3 871.08V862.58M615.35 871.08V866.58M636.4 871.08V862.58M657.45 871.08V866.58M678.5 871.08V862.58M699.55 871.08V866.58M720.6 871.08V862.58M741.65 871.08V866.58M762.7 871.08V862.58M783.75 871.08V866.58M804.8 871.08V862.58M552.2 884.3H544.2M552.2 917.35H547.7M552.2 950.4H544.2M552.2 983.45H547.7M552.2 1016.5H544.2M552.2 1049.55H547.7M552.2 1082.6H544.2M552.2 1115.65H547.7M552.2 1148.7H544.2M552.2 1181.75H547.7M552.2 1214.8H544.2" stroke="#000" stroke-width="2.5" fill="none"/>
<g font-family="Liberation Serif, serif" font-weight="bold" font-size="24" fill="#000">
<text transform="translate(552.2 852.18) scale(0.96 1.07)" text-anchor="middle">5</text>
<text transform="translate(594.3 852.18) scale(0.96 1.07)" text-anchor="middle">10</text>
<text transform="translate(636.4 852.18) scale(0.96 1.07)" text-anchor="middle">15</text>
<text transform="translate(678.5 852.18) scale(0.96 1.07)" text-anchor="middle">20</text>
<text transform="translate(720.6 852.18) scale(0.96 1.07)" text-anchor="middle">25</text>
<text transform="translate(762.7 852.18) scale(0.96 1.07)" text-anchor="middle">30</text>
<text transform="translate(804.8 852.18) scale(0.96 1.07)" text-anchor="middle">35</text>
<text transform="translate(538.9 891.2) scale(0.96 1.07)" text-anchor="end">0</text>
<text transform="translate(538.9 957.3) scale(0.96 1.07)" text-anchor="end">50</text>
<text transform="translate(538.9 1023.4) scale(0.96 1.07)" text-anchor="end">100</text>
<text transform="translate(538.9 1089.5) scale(0.96 1.07)" text-anchor="end">150</text>
<text transform="translate(538.9 1155.6) scale(0.96 1.07)" text-anchor="end">200</text>
<text transform="translate(538.9 1221.7) scale(0.96 1.07)" text-anchor="end">250</text>
</g>
<rect x="942.6" y="871.08" width="252.6" height="343.72" fill="#f4c2c3"/>
<path d="M991.75 901.87L995.55 946.05M994.03 967.73L991.37 979.34M988.24 1001.04L985.56 1045.18M983.06 1067.01L981.14 1078.36" stroke="#474747" stroke-width="2.9" stroke-linecap="round" fill="none"/>
<polygon points="990.8,881.91 998.59,886.41 998.59,895.41 990.8,899.91 983.01,895.41 983.01,886.41" fill="#505050"/>
<polygon points="996.5,948.01 1004.29,952.51 1004.29,961.51 996.5,966.01 988.71,961.51 988.71,952.51" fill="#505050"/>
<polygon points="988.9,981.06 996.69,985.56 996.69,994.56 988.9,999.06 981.11,994.56 981.11,985.56" fill="#505050"/>
<polygon points="984.9,1047.16 992.69,1051.66 992.69,1060.66 984.9,1065.16 977.11,1060.66 977.11,1051.66" fill="#505050"/>
<polygon points="979.3,1080.21 987.09,1084.71 987.09,1093.71 979.3,1098.21 971.51,1093.71 971.51,1084.71" fill="#505050"/>
<path d="M984.26 901.5L996.84 946.42M1001.35 967.9L1002.95 979.17M1006.78 1000.82L1016.22 1045.4M1019.67 1067.1L1024.43 1111.32" stroke="#e43a3a" stroke-width="2.9" stroke-linecap="round" fill="none"/>
<polygon points="981.3,881.21 983.9,887.33 990.53,887.91 985.51,892.28 987,898.76 981.3,895.33 975.6,898.76 977.09,892.28 972.07,887.91 978.7,887.33" fill="#e23d3d"/>
<polygon points="999.8,947.31 1002.4,953.43 1009.03,954.01 1004.01,958.38 1005.5,964.86 999.8,961.43 994.1,964.86 995.59,958.38 990.57,954.01 997.2,953.43" fill="#fff" stroke="#e8503a" stroke-width="1.1"/>
<polygon points="1004.5,980.36 1007.1,986.48 1013.73,987.06 1008.71,991.43 1010.2,997.91 1004.5,994.48 998.8,997.91 1000.29,991.43 995.27,987.06 1001.9,986.48" fill="#e23d3d"/>
<polygon points="1018.5,1046.46 1021.1,1052.58 1027.73,1053.16 1022.71,1057.53 1024.2,1064.01 1018.5,1060.58 1012.8,1064.01 1014.29,1057.53 1009.27,1053.16 1015.9,1052.58" fill="#e23d3d"/>
<polygon points="1025.6,1112.56 1028.2,1118.68 1034.83,1119.26 1029.81,1123.63 1031.3,1130.11 1025.6,1126.68 1019.9,1130.11 1021.39,1123.63 1016.37,1119.26 1023,1118.68" fill="#e23d3d"/>
<path d="M1004.02 901.43L1005.68 906.83M1004.03 927.21L994.17 947.15M992.91 967.4L997.19 979.67M1001.23 1001.05L1002.97 1045.17M1003.58 1067.16L1004.32 1111.26" stroke="#2462b3" stroke-width="2.9" stroke-linecap="round" fill="none"/>
<polygon points="1000.8,881.11 1010.12,887.88 1006.56,898.84 995.04,898.84 991.48,887.88" fill="#2a63b0"/>
<polygon points="1008.9,907.55 1018.22,914.32 1014.66,925.28 1003.14,925.28 999.58,914.32" fill="#2a63b0"/>
<polygon points="989.3,947.21 998.62,953.98 995.06,964.94 983.54,964.94 979.98,953.98" fill="#fff" stroke="#2a63b0" stroke-width="1.1"/>
<polygon points="1000.8,980.26 1010.12,987.03 1006.56,997.99 995.04,997.99 991.48,987.03" fill="#2a63b0"/>
<polygon points="1003.4,1046.36 1012.72,1053.13 1009.16,1064.09 997.64,1064.09 994.08,1053.13" fill="#2a63b0"/>
<polygon points="1004.5,1112.46 1013.82,1119.23 1010.26,1130.19 998.74,1130.19 995.18,1119.23" fill="#2a63b0"/>
<rect x="942.6" y="871.08" width="252.6" height="343.72" fill="none" stroke="#000" stroke-width="2.6"/>
<path d="M942.6 871.08V862.58M963.65 871.08V866.58M984.7 871.08V862.58M1005.75 871.08V866.58M1026.8 871.08V862.58M1047.85 871.08V866.58M1068.9 871.08V862.58M1089.95 871.08V866.58M1111 871.08V862.58M1132.05 871.08V866.58M1153.1 871.08V862.58M1174.15 871.08V866.58M1195.2 871.08V862.58M942.6 884.3H934.6M942.6 917.35H938.1M942.6 950.4H934.6M942.6 983.45H938.1M942.6 1016.5H934.6M942.6 1049.55H938.1M942.6 1082.6H934.6M942.6 1115.65H938.1M942.6 1148.7H934.6M942.6 1181.75H938.1M942.6 1214.8H934.6" stroke="#000" stroke-width="2.5" fill="none"/>
<g font-family="Liberation Serif, serif" font-weight="bold" font-size="24" fill="#000">
<text transform="translate(942.6 852.18) scale(0.96 1.07)" text-anchor="middle">5</text>
<text transform="translate(984.7 852.18) scale(0.96 1.07)" text-anchor="middle">10</text>
<text transform="translate(1026.8 852.18) scale(0.96 1.07)" text-anchor="middle">15</text>
<text transform="translate(1068.9 852.18) scale(0.96 1.07)" text-anchor="middle">20</text>
<text transform="translate(1111 852.18) scale(0.96 1.07)" text-anchor="middle">25</text>
<text transform="translate(1153.1 852.18) scale(0.96 1.07)" text-anchor="middle">30</text>
<text transform="translate(1195.2 852.18) scale(0.96 1.07)" text-anchor="middle">35</text>
<text transform="translate(929.3 891.2) scale(0.96 1.07)" text-anchor="end">0</text>
<text transform="translate(929.3 957.3) scale(0.96 1.07)" text-anchor="end">50</text>
<text transform="translate(929.3 1023.4) scale(0.96 1.07)" text-anchor="end">100</text>
<text transform="translate(929.3 1089.5) scale(0.96 1.07)" text-anchor="end">150</text>
<text transform="translate(929.3 1155.6) scale(0.96 1.07)" text-anchor="end">200</text>
<text transform="translate(929.3 1221.7) scale(0.96 1.07)" text-anchor="end">250</text>
</g>
<g font-family="Liberation Serif, serif" font-weight="bold" font-size="27" fill="#000" text-anchor="middle">
<text x="1129" y="1142">Propane</text>
<text x="1129" y="1179">(pmol L<tspan font-size="17" dy="-11.8">-1</tspan><tspan dy="11.8" dx="1">)</tspan></text>
</g>
<rect x="162" y="1274.73" width="252.6" height="343.72" fill="#c1e2d3"/>
<path d="M268.65 1297.69L336.75 1317.87M336.8 1324.28L230.9 1357.38M222.71 1371.41L225.19 1382.96M233.9 1402.66L268.4 1450.86M269.75 1469.58L245.65 1516.14" stroke="#474747" stroke-width="2.9" stroke-linecap="round" fill="none"/>
<rect x="250.5" y="1286.96" width="15.2" height="15.2" fill="#505050"/>
<rect x="339.7" y="1313.4" width="15.2" height="15.2" fill="#505050"/>
<rect x="212.8" y="1353.06" width="15.2" height="15.2" fill="#fff" stroke="#555" stroke-width="1.1"/>
<rect x="219.9" y="1386.11" width="15.2" height="15.2" fill="#505050"/>
<rect x="267.2" y="1452.21" width="15.2" height="15.2" fill="#505050"/>
<rect x="233" y="1518.31" width="15.2" height="15.2" fill="#505050"/>
<path d="M386.81 1296.12L224.29 1319.44M220.12 1329.71L237.28 1351.95M243.67 1371.65L243.33 1382.72M240.28 1404.37L228.82 1449.15M234.35 1467.09L292.75 1518.63" stroke="#e43a3a" stroke-width="2.9" stroke-linecap="round" fill="none"/>
<circle cx="397.7" cy="1294.56" r="8.3" fill="#e23d3d"/>
<circle cx="213.4" cy="1321" r="8.3" fill="#e23d3d"/>
<circle cx="244" cy="1360.66" r="8.3" fill="#fff" stroke="#e8503a" stroke-width="1.1"/>
<circle cx="243" cy="1393.71" r="8.3" fill="#e23d3d"/>
<circle cx="226.1" cy="1459.81" r="8.3" fill="#e23d3d"/>
<circle cx="301" cy="1525.91" r="8.3" fill="#e23d3d"/>
<rect x="162" y="1274.73" width="252.6" height="343.72" fill="none" stroke="#000" stroke-width="2.6"/>
<path d="M162 1274.73V1266.23M183.05 1274.73V1270.23M204.1 1274.73V1266.23M225.15 1274.73V1270.23M246.2 1274.73V1266.23M267.25 1274.73V1270.23M288.3 1274.73V1266.23M309.35 1274.73V1270.23M330.4 1274.73V1266.23M351.45 1274.73V1270.23M372.5 1274.73V1266.23M393.55 1274.73V1270.23M414.6 1274.73V1266.23M162 1287.95H154M162 1321H157.5M162 1354.05H154M162 1387.1H157.5M162 1420.15H154M162 1453.2H157.5M162 1486.25H154M162 1519.3H157.5M162 1552.35H154M162 1585.4H157.5M162 1618.45H154" stroke="#000" stroke-width="2.5" fill="none"/>
<g font-family="Liberation Serif, serif" font-weight="bold" font-size="24" fill="#000">
<text transform="translate(162 1255.83) scale(0.96 1.07)" text-anchor="middle">0</text>
<text transform="translate(204.1 1255.83) scale(0.96 1.07)" text-anchor="middle">30</text>
<text transform="translate(246.2 1255.83) scale(0.96 1.07)" text-anchor="middle">60</text>
<text transform="translate(288.3 1255.83) scale(0.96 1.07)" text-anchor="middle">90</text>
<text transform="translate(330.4 1255.83) scale(0.96 1.07)" text-anchor="middle">120</text>
<text transform="translate(372.5 1255.83) scale(0.96 1.07)" text-anchor="middle">150</text>
<text transform="translate(414.6 1255.83) scale(0.96 1.07)" text-anchor="middle">180</text>
<text transform="translate(148.7 1294.85) scale(0.96 1.07)" text-anchor="end">0</text>
<text transform="translate(148.7 1360.95) scale(0.96 1.07)" text-anchor="end">50</text>
<text transform="translate(148.7 1427.05) scale(0.96 1.07)" text-anchor="end">100</text>
<text transform="translate(148.7 1493.15) scale(0.96 1.07)" text-anchor="end">150</text>
<text transform="translate(148.7 1559.25) scale(0.96 1.07)" text-anchor="end">200</text>
<text transform="translate(148.7 1625.35) scale(0.96 1.07)" text-anchor="end">250</text>
</g>
<rect x="552.2" y="1274.73" width="252.6" height="343.72" fill="#f4c2c3"/>
<path d="M720.76 1303.48L714.54 1312.08M712.95 1330.87L722.75 1350.79M717.62 1365.28L666.08 1389.09M665.71 1399.07L764.99 1454.45M766.74 1467.51L714.96 1518.21" stroke="#474747" stroke-width="2.9" stroke-linecap="round" fill="none"/>
<polygon points="727.2,1283.13 737.1,1300.28 717.3,1300.28" fill="#505050"/>
<polygon points="708.1,1309.57 718,1326.72 698.2,1326.72" fill="#505050"/>
<polygon points="727.6,1349.23 737.5,1366.38 717.7,1366.38" fill="#fff" stroke="#555" stroke-width="1.1"/>
<polygon points="656.1,1382.28 666,1399.43 646.2,1399.43" fill="#505050"/>
<polygon points="774.6,1448.38 784.5,1465.53 764.7,1465.53" fill="#505050"/>
<polygon points="707.1,1514.48 717,1531.63 697.2,1531.63" fill="#505050"/>
<path d="M676.14 1305.49L676.66 1310.07M687.52 1326.34L739.78 1355.32M740.15 1366.61L707.25 1387.76M692.5 1403.23L684.4 1417.24M673.18 1436.16L664.52 1450.41M653.03 1469.18L623.87 1516.54" stroke="#e43a3a" stroke-width="2.9" stroke-linecap="round" fill="none"/>
<polygon points="674.9,1305.99 684.8,1288.84 665,1288.84" fill="#e23d3d"/>
<polygon points="677.9,1332.43 687.8,1315.28 668,1315.28" fill="#e23d3d"/>
<polygon points="749.4,1372.09 759.3,1354.94 739.5,1354.94" fill="#e23d3d"/>
<polygon points="698,1405.14 707.9,1387.99 688.1,1387.99" fill="#e23d3d"/>
<polygon points="678.9,1438.19 688.8,1421.04 669,1421.04" fill="#fff" stroke="#e8503a" stroke-width="1.1"/>
<polygon points="658.8,1471.24 668.7,1454.09 648.9,1454.09" fill="#e23d3d"/>
<polygon points="618.1,1537.34 628,1520.19 608.2,1520.19" fill="#e23d3d"/>
<path d="M636.22 1297.01L730.58 1318.55M733.42 1328.67L640.48 1419.09M636.52 1437.04L653.88 1482.58M650.49 1501.08L594.61 1563.96" stroke="#2462b3" stroke-width="2.9" stroke-linecap="round" fill="none"/>
<polygon points="625.5,1284.26 635.8,1294.56 625.5,1304.86 615.2,1294.56" fill="#2a63b0"/>
<polygon points="741.3,1310.7 751.6,1321 741.3,1331.3 731,1321" fill="#fff" stroke="#2a63b0" stroke-width="1.1"/>
<polygon points="632.6,1416.46 642.9,1426.76 632.6,1437.06 622.3,1426.76" fill="#2a63b0"/>
<polygon points="657.8,1482.56 668.1,1492.86 657.8,1503.16 647.5,1492.86" fill="#2a63b0"/>
<polygon points="587.3,1561.88 597.6,1572.18 587.3,1582.48 577,1572.18" fill="#2a63b0"/>
<rect x="552.2" y="1274.73" width="252.6" height="343.72" fill="none" stroke="#000" stroke-width="2.6"/>
<path d="M552.2 1274.73V1266.23M573.25 1274.73V1270.23M594.3 1274.73V1266.23M615.35 1274.73V1270.23M636.4 1274.73V1266.23M657.45 1274.73V1270.23M678.5 1274.73V1266.23M699.55 1274.73V1270.23M720.6 1274.73V1266.23M741.65 1274.73V1270.23M762.7 1274.73V1266.23M783.75 1274.73V1270.23M804.8 1274.73V1266.23M552.2 1287.95H544.2M552.2 1321H547.7M552.2 1354.05H544.2M552.2 1387.1H547.7M552.2 1420.15H544.2M552.2 1453.2H547.7M552.2 1486.25H544.2M552.2 1519.3H547.7M552.2 1552.35H544.2M552.2 1585.4H547.7M552.2 1618.45H544.2" stroke="#000" stroke-width="2.5" fill="none"/>
<g font-family="Liberation Serif, serif" font-weight="bold" font-size="24" fill="#000">
<text transform="translate(552.2 1255.83) scale(0.96 1.07)" text-anchor="middle">30</text>
<text transform="translate(594.3 1255.83) scale(0.96 1.07)" text-anchor="middle">40</text>
<text transform="translate(636.4 1255.83) scale(0.96 1.07)" text-anchor="middle">50</text>
<text transform="translate(678.5 1255.83) scale(0.96 1.07)" text-anchor="middle">60</text>
<text transform="translate(720.6 1255.83) scale(0.96 1.07)" text-anchor="middle">70</text>
<text transform="translate(762.7 1255.83) scale(0.96 1.07)" text-anchor="middle">80</text>
<text transform="translate(804.8 1255.83) scale(0.96 1.07)" text-anchor="middle">90</text>
<text transform="translate(538.9 1294.85) scale(0.96 1.07)" text-anchor="end">0</text>
<text transform="translate(538.9 1360.95) scale(0.96 1.07)" text-anchor="end">50</text>
<text transform="translate(538.9 1427.05) scale(0.96 1.07)" text-anchor="end">100</text>
<text transform="translate(538.9 1493.15) scale(0.96 1.07)" text-anchor="end">150</text>
<text transform="translate(538.9 1559.25) scale(0.96 1.07)" text-anchor="end">200</text>
<text transform="translate(538.9 1625.35) scale(0.96 1.07)" text-anchor="end">250</text>
</g>
<rect x="942.6" y="1274.73" width="252.6" height="343.72" fill="#f4c2c3"/>
<path d="M1101.5 1301.67L1162.8 1353.55M1162.3 1367.12L1134.6 1387.25M1116.61 1399.9L1037.69 1453.62M1027.61 1470.76L1026.59 1481.91" stroke="#474747" stroke-width="2.9" stroke-linecap="round" fill="none"/>
<polygon points="1093.1,1285.56 1100.89,1290.06 1100.89,1299.06 1093.1,1303.56 1085.31,1299.06 1085.31,1290.06" fill="#505050"/>
<polygon points="1171.2,1351.66 1178.99,1356.16 1178.99,1365.16 1171.2,1369.66 1163.41,1365.16 1163.41,1356.16" fill="#fff" stroke="#555" stroke-width="1.1"/>
<polygon points="1125.7,1384.71 1133.49,1389.21 1133.49,1398.21 1125.7,1402.71 1117.91,1398.21 1117.91,1389.21" fill="#505050"/>
<polygon points="1028.6,1450.81 1036.39,1455.31 1036.39,1464.31 1028.6,1468.81 1020.81,1464.31 1020.81,1455.31" fill="#505050"/>
<polygon points="1025.6,1483.86 1033.39,1488.36 1033.39,1497.36 1025.6,1501.86 1017.81,1497.36 1017.81,1488.36" fill="#505050"/>
<path d="M1002.72 1297.03L1096.08 1318.53M1096.31 1324.31L991.39 1357.35M990.59 1365.87L1032.61 1388.5M1038.23 1403.93L1020.07 1449.59M1024.73 1466.51L1093.37 1519.21" stroke="#e43a3a" stroke-width="2.9" stroke-linecap="round" fill="none"/>
<polygon points="992,1284.86 994.6,1290.98 1001.23,1291.56 996.21,1295.93 997.7,1302.41 992,1298.98 986.3,1302.41 987.79,1295.93 982.77,1291.56 989.4,1290.98" fill="#e23d3d"/>
<polygon points="1106.8,1311.3 1109.4,1317.42 1116.03,1318 1111.01,1322.37 1112.5,1328.85 1106.8,1325.42 1101.1,1328.85 1102.59,1322.37 1097.57,1318 1104.2,1317.42" fill="#e23d3d"/>
<polygon points="980.9,1350.96 983.5,1357.08 990.13,1357.66 985.11,1362.03 986.6,1368.51 980.9,1365.08 975.2,1368.51 976.69,1362.03 971.67,1357.66 978.3,1357.08" fill="#fff" stroke="#e8503a" stroke-width="1.1"/>
<polygon points="1042.3,1384.01 1044.9,1390.13 1051.53,1390.71 1046.51,1395.08 1048,1401.56 1042.3,1398.13 1036.6,1401.56 1038.09,1395.08 1033.07,1390.71 1039.7,1390.13" fill="#e23d3d"/>
<polygon points="1016,1450.11 1018.6,1456.23 1025.23,1456.81 1020.21,1461.18 1021.7,1467.66 1016,1464.23 1010.3,1467.66 1011.79,1461.18 1006.77,1456.81 1013.4,1456.23" fill="#e23d3d"/>
<polygon points="1102.1,1516.21 1104.7,1522.33 1111.33,1522.91 1106.31,1527.28 1107.8,1533.76 1102.1,1530.33 1096.4,1533.76 1097.89,1527.28 1092.87,1522.91 1099.5,1522.33" fill="#e23d3d"/>
<path d="M1113.71 1302.6L1123.39 1312.96M1122.36 1327.93L1090.54 1353.73M1072.34 1365.91L1030.86 1388.46M1019.76 1404.62L1013.94 1448.9M1017.55 1469.58L1041.65 1516.14" stroke="#2462b3" stroke-width="2.9" stroke-linecap="round" fill="none"/>
<polygon points="1106.2,1284.76 1115.52,1291.53 1111.96,1302.49 1100.44,1302.49 1096.88,1291.53" fill="#2a63b0"/>
<polygon points="1130.9,1311.2 1140.22,1317.97 1136.66,1328.93 1125.14,1328.93 1121.58,1317.97" fill="#2a63b0"/>
<polygon points="1082,1350.86 1091.32,1357.63 1087.76,1368.59 1076.24,1368.59 1072.68,1357.63" fill="#fff" stroke="#2a63b0" stroke-width="1.1"/>
<polygon points="1021.2,1383.91 1030.52,1390.68 1026.96,1401.64 1015.44,1401.64 1011.88,1390.68" fill="#2a63b0"/>
<polygon points="1012.5,1450.01 1021.82,1456.78 1018.26,1467.74 1006.74,1467.74 1003.18,1456.78" fill="#2a63b0"/>
<polygon points="1046.7,1516.11 1056.02,1522.88 1052.46,1533.84 1040.94,1533.84 1037.38,1522.88" fill="#2a63b0"/>
<rect x="942.6" y="1274.73" width="252.6" height="343.72" fill="none" stroke="#000" stroke-width="2.6"/>
<path d="M942.6 1274.73V1266.23M963.65 1274.73V1270.23M984.7 1274.73V1266.23M1005.75 1274.73V1270.23M1026.8 1274.73V1266.23M1047.85 1274.73V1270.23M1068.9 1274.73V1266.23M1089.95 1274.73V1270.23M1111 1274.73V1266.23M1132.05 1274.73V1270.23M1153.1 1274.73V1266.23M1174.15 1274.73V1270.23M1195.2 1274.73V1266.23M942.6 1287.95H934.6M942.6 1321H938.1M942.6 1354.05H934.6M942.6 1387.1H938.1M942.6 1420.15H934.6M942.6 1453.2H938.1M942.6 1486.25H934.6M942.6 1519.3H938.1M942.6 1552.35H934.6M942.6 1585.4H938.1M942.6 1618.45H934.6" stroke="#000" stroke-width="2.5" fill="none"/>
<g font-family="Liberation Serif, serif" font-weight="bold" font-size="24" fill="#000">
<text transform="translate(942.6 1255.83) scale(0.96 1.07)" text-anchor="middle">30</text>
<text transform="translate(984.7 1255.83) scale(0.96 1.07)" text-anchor="middle">40</text>
<text transform="translate(1026.8 1255.83) scale(0.96 1.07)" text-anchor="middle">50</text>
<text transform="translate(1068.9 1255.83) scale(0.96 1.07)" text-anchor="middle">60</text>
<text transform="translate(1111 1255.83) scale(0.96 1.07)" text-anchor="middle">70</text>
<text transform="translate(1153.1 1255.83) scale(0.96 1.07)" text-anchor="middle">80</text>
<text transform="translate(1195.2 1255.83) scale(0.96 1.07)" text-anchor="middle">90</text>
<text transform="translate(929.3 1294.85) scale(0.96 1.07)" text-anchor="end">0</text>
<text transform="translate(929.3 1360.95) scale(0.96 1.07)" text-anchor="end">50</text>
<text transform="translate(929.3 1427.05) scale(0.96 1.07)" text-anchor="end">100</text>
<text transform="translate(929.3 1493.15) scale(0.96 1.07)" text-anchor="end">150</text>
<text transform="translate(929.3 1559.25) scale(0.96 1.07)" text-anchor="end">200</text>
<text transform="translate(929.3 1625.35) scale(0.96 1.07)" text-anchor="end">250</text>
</g>
<g font-family="Liberation Serif, serif" font-weight="bold" font-size="27" fill="#000" text-anchor="middle">
<text x="1128" y="1571.3">Ethylene</text>
<text x="1128" y="1608.9">(pmol L<tspan font-size="17" dy="-11.8">-1</tspan><tspan dy="11.8" dx="1">)</tspan></text>
</g>
<rect x="162" y="1687.88" width="252.6" height="343.72" fill="#c1e2d3"/>
<path d="M224.64 1712.62L257.96 1729.24M259.09 1740.87L225.11 1767.09M216.4 1784.81L216.4 1795.86M215.23 1817.8L210.47 1862.02M211.06 1883.82L218.24 1928.2" stroke="#474747" stroke-width="2.9" stroke-linecap="round" fill="none"/>
<rect x="207.2" y="1700.11" width="15.2" height="15.2" fill="#505050"/>
<rect x="260.2" y="1726.55" width="15.2" height="15.2" fill="#505050"/>
<rect x="208.8" y="1766.21" width="15.2" height="15.2" fill="#fff" stroke="#555" stroke-width="1.1"/>
<rect x="208.8" y="1799.26" width="15.2" height="15.2" fill="#505050"/>
<rect x="201.7" y="1865.36" width="15.2" height="15.2" fill="#505050"/>
<rect x="212.4" y="1931.46" width="15.2" height="15.2" fill="#505050"/>
<path d="M355.51 1709.26L191.59 1732.6M187.04 1743.14L202.36 1764.82M213.32 1783.79L219.38 1796.88M223.07 1817.82L219.33 1862M228.62 1877.02L374.78 1935" stroke="#e43a3a" stroke-width="2.9" stroke-linecap="round" fill="none"/>
<circle cx="366.4" cy="1707.71" r="8.3" fill="#e23d3d"/>
<circle cx="180.7" cy="1734.15" r="8.3" fill="#e23d3d"/>
<circle cx="208.7" cy="1773.81" r="8.3" fill="#fff" stroke="#e8503a" stroke-width="1.1"/>
<circle cx="224" cy="1806.86" r="8.3" fill="#e23d3d"/>
<circle cx="218.4" cy="1872.96" r="8.3" fill="#e23d3d"/>
<circle cx="385" cy="1939.06" r="8.3" fill="#e23d3d"/>
<rect x="162" y="1687.88" width="252.6" height="343.72" fill="none" stroke="#000" stroke-width="2.6"/>
<path d="M162 1687.88V1679.38M187.26 1687.88V1683.38M212.52 1687.88V1679.38M237.78 1687.88V1683.38M263.04 1687.88V1679.38M288.3 1687.88V1683.38M313.56 1687.88V1679.38M338.82 1687.88V1683.38M364.08 1687.88V1679.38M389.34 1687.88V1683.38M414.6 1687.88V1679.38M162 1701.1H154M162 1734.15H157.5M162 1767.2H154M162 1800.25H157.5M162 1833.3H154M162 1866.35H157.5M162 1899.4H154M162 1932.45H157.5M162 1965.5H154M162 1998.55H157.5M162 2031.6H154" stroke="#000" stroke-width="2.5" fill="none"/>
<g font-family="Liberation Serif, serif" font-weight="bold" font-size="24" fill="#000">
<text transform="translate(162 1668.98) scale(0.96 1.07)" text-anchor="middle">20</text>
<text transform="translate(212.52 1668.98) scale(0.96 1.07)" text-anchor="middle">30</text>
<text transform="translate(263.04 1668.98) scale(0.96 1.07)" text-anchor="middle">40</text>
<text transform="translate(313.56 1668.98) scale(0.96 1.07)" text-anchor="middle">50</text>
<text transform="translate(364.08 1668.98) scale(0.96 1.07)" text-anchor="middle">60</text>
<text transform="translate(414.6 1668.98) scale(0.96 1.07)" text-anchor="middle">70</text>
<text transform="translate(148.7 1708) scale(0.96 1.07)" text-anchor="end">0</text>
<text transform="translate(148.7 1774.1) scale(0.96 1.07)" text-anchor="end">50</text>
<text transform="translate(148.7 1840.2) scale(0.96 1.07)" text-anchor="end">100</text>
<text transform="translate(148.7 1906.3) scale(0.96 1.07)" text-anchor="end">150</text>
<text transform="translate(148.7 1972.4) scale(0.96 1.07)" text-anchor="end">200</text>
<text transform="translate(148.7 2038.5) scale(0.96 1.07)" text-anchor="end">250</text>
</g>
<rect x="552.2" y="1687.88" width="252.6" height="343.72" fill="#f4c2c3"/>
<path d="M648.46 1715.99L639.84 1725.87M642.38 1739.19L699.72 1768.77M699.35 1778.06L640.75 1802.61M639.36 1813.51L708.84 1866.31M709.37 1880.25L651.23 1931.77" stroke="#474747" stroke-width="2.9" stroke-linecap="round" fill="none"/>
<polygon points="655.7,1696.28 665.6,1713.43 645.8,1713.43" fill="#505050"/>
<polygon points="632.6,1722.72 642.5,1739.87 622.7,1739.87" fill="#505050"/>
<polygon points="709.5,1762.38 719.4,1779.53 699.6,1779.53" fill="#fff" stroke="#555" stroke-width="1.1"/>
<polygon points="630.6,1795.43 640.5,1812.58 620.7,1812.58" fill="#505050"/>
<polygon points="717.6,1861.53 727.5,1878.68 707.7,1878.68" fill="#505050"/>
<polygon points="643,1927.63 652.9,1944.78 633.1,1944.78" fill="#505050"/>
<path d="M601.43 1716.95L596.27 1724.91M599.96 1739.41L653.54 1768.55M662.4 1784.78L661.6 1795.89M654 1815.51L615.6 1864.31M603.2 1882.43L575.3 1929.59" stroke="#e43a3a" stroke-width="2.9" stroke-linecap="round" fill="none"/>
<polygon points="607.4,1719.14 617.3,1701.99 597.5,1701.99" fill="#e23d3d"/>
<polygon points="590.3,1745.58 600.2,1728.43 580.4,1728.43" fill="#e23d3d"/>
<polygon points="663.2,1785.24 673.1,1768.09 653.3,1768.09" fill="#e23d3d"/>
<polygon points="660.8,1818.29 670.7,1801.14 650.9,1801.14" fill="#e23d3d"/>
<polygon points="635.4,1854.38 645.3,1837.23 625.5,1837.23" fill="#fff"/>
<polygon points="608.8,1884.39 618.7,1867.24 598.9,1867.24" fill="#e23d3d"/>
<polygon points="569.7,1950.49 579.6,1933.34 559.8,1933.34" fill="#e23d3d"/>
<path d="M601.95 1715.61L612.25 1726.25M618.51 1745.06L607.79 1829M604.74 1850.78L597.96 1895.14M595.94 1917L594.06 1974.34" stroke="#2462b3" stroke-width="2.9" stroke-linecap="round" fill="none"/>
<polygon points="594.3,1697.41 604.6,1707.71 594.3,1718.01 584,1707.71" fill="#2a63b0"/>
<polygon points="619.9,1723.85 630.2,1734.15 619.9,1744.45 609.6,1734.15" fill="#fff" stroke="#2a63b0" stroke-width="1.1"/>
<polygon points="606.4,1829.61 616.7,1839.91 606.4,1850.21 596.1,1839.91" fill="#2a63b0"/>
<polygon points="596.3,1895.71 606.6,1906.01 596.3,1916.31 586,1906.01" fill="#2a63b0"/>
<polygon points="593.7,1975.03 604,1985.33 593.7,1995.63 583.4,1985.33" fill="#2a63b0"/>
<rect x="552.2" y="1687.88" width="252.6" height="343.72" fill="none" stroke="#000" stroke-width="2.6"/>
<path d="M552.2 1687.88V1679.38M577.46 1687.88V1683.38M602.72 1687.88V1679.38M627.98 1687.88V1683.38M653.24 1687.88V1679.38M678.5 1687.88V1683.38M703.76 1687.88V1679.38M729.02 1687.88V1683.38M754.28 1687.88V1679.38M779.54 1687.88V1683.38M804.8 1687.88V1679.38M552.2 1701.1H544.2M552.2 1734.15H547.7M552.2 1767.2H544.2M552.2 1800.25H547.7M552.2 1833.3H544.2M552.2 1866.35H547.7M552.2 1899.4H544.2M552.2 1932.45H547.7M552.2 1965.5H544.2M552.2 1998.55H547.7M552.2 2031.6H544.2" stroke="#000" stroke-width="2.5" fill="none"/>
<g font-family="Liberation Serif, serif" font-weight="bold" font-size="24" fill="#000">
<text transform="translate(552.2 1668.98) scale(0.96 1.07)" text-anchor="middle">20</text>
<text transform="translate(602.72 1668.98) scale(0.96 1.07)" text-anchor="middle">30</text>
<text transform="translate(653.24 1668.98) scale(0.96 1.07)" text-anchor="middle">40</text>
<text transform="translate(703.76 1668.98) scale(0.96 1.07)" text-anchor="middle">50</text>
<text transform="translate(754.28 1668.98) scale(0.96 1.07)" text-anchor="middle">60</text>
<text transform="translate(804.8 1668.98) scale(0.96 1.07)" text-anchor="middle">70</text>
<text transform="translate(538.9 1708) scale(0.96 1.07)" text-anchor="end">0</text>
<text transform="translate(538.9 1774.1) scale(0.96 1.07)" text-anchor="end">50</text>
<text transform="translate(538.9 1840.2) scale(0.96 1.07)" text-anchor="end">100</text>
<text transform="translate(538.9 1906.3) scale(0.96 1.07)" text-anchor="end">150</text>
<text transform="translate(538.9 1972.4) scale(0.96 1.07)" text-anchor="end">200</text>
<text transform="translate(538.9 2038.5) scale(0.96 1.07)" text-anchor="end">250</text>
</g>
<rect x="942.6" y="1687.88" width="252.6" height="343.72" fill="#f4c2c3"/>
<path d="M1020.59 1718.69L1018.11 1762.83M1018.53 1784.76L1019.57 1795.91M1020.6 1817.86L1020.6 1861.96M1015.66 1882.79L1008.94 1896.18" stroke="#474747" stroke-width="2.9" stroke-linecap="round" fill="none"/>
<polygon points="1021.2,1698.71 1028.99,1703.21 1028.99,1712.21 1021.2,1716.71 1013.41,1712.21 1013.41,1703.21" fill="#505050"/>
<polygon points="1017.5,1764.81 1025.29,1769.31 1025.29,1778.31 1017.5,1782.81 1009.71,1778.31 1009.71,1769.31" fill="#fff" stroke="#555" stroke-width="1.1"/>
<polygon points="1020.6,1797.86 1028.39,1802.36 1028.39,1811.36 1020.6,1815.86 1012.81,1811.36 1012.81,1802.36" fill="#505050"/>
<polygon points="1020.6,1863.96 1028.39,1868.46 1028.39,1877.46 1020.6,1881.96 1012.81,1877.46 1012.81,1868.46" fill="#505050"/>
<polygon points="1004,1897.01 1011.79,1901.51 1011.79,1910.51 1004,1915.01 996.21,1910.51 996.21,1901.51" fill="#505050"/>
<path d="M964.86 1713.81L986.24 1728.05M987.82 1742.12L965.28 1765.84M965.39 1781.68L982.31 1798.99M991.55 1817.75L997.85 1862.07M999.9 1883.95L1001.9 1928.07" stroke="#e43a3a" stroke-width="2.9" stroke-linecap="round" fill="none"/>
<polygon points="955.7,1698.01 958.3,1704.13 964.93,1704.71 959.91,1709.08 961.4,1715.56 955.7,1712.13 950,1715.56 951.49,1709.08 946.47,1704.71 953.1,1704.13" fill="#e23d3d"/>
<polygon points="995.4,1724.45 998,1730.57 1004.63,1731.15 999.61,1735.52 1001.1,1742 995.4,1738.57 989.7,1742 991.19,1735.52 986.17,1731.15 992.8,1730.57" fill="#e23d3d"/>
<polygon points="957.7,1764.11 960.3,1770.23 966.93,1770.81 961.91,1775.18 963.4,1781.66 957.7,1778.23 952,1781.66 953.49,1775.18 948.47,1770.81 955.1,1770.23" fill="#fff" stroke="#e8503a" stroke-width="1.1"/>
<polygon points="990,1797.16 992.6,1803.28 999.23,1803.86 994.21,1808.23 995.7,1814.71 990,1811.28 984.3,1814.71 985.79,1808.23 980.77,1803.86 987.4,1803.28" fill="#e23d3d"/>
<polygon points="999.4,1863.26 1002,1869.38 1008.63,1869.96 1003.61,1874.33 1005.1,1880.81 999.4,1877.38 993.7,1880.81 995.19,1874.33 990.17,1869.96 996.8,1869.38" fill="#e23d3d"/>
<polygon points="1002.4,1929.36 1005,1935.48 1011.63,1936.06 1006.61,1940.43 1008.1,1946.91 1002.4,1943.48 996.7,1946.91 998.19,1940.43 993.17,1936.06 999.8,1935.48" fill="#e23d3d"/>
<path d="M1006.65 1718.55L1005.85 1723.31M999.03 1743.96L988.87 1764M989.72 1783.15L998.68 1797.52M1005.23 1817.84L1008.17 1861.98M1010.16 1883.89L1015.24 1928.13" stroke="#2462b3" stroke-width="2.9" stroke-linecap="round" fill="none"/>
<polygon points="1008.5,1697.91 1017.82,1704.68 1014.26,1715.64 1002.74,1715.64 999.18,1704.68" fill="#2a63b0"/>
<polygon points="1004,1724.35 1013.32,1731.12 1009.76,1742.08 998.24,1742.08 994.68,1731.12" fill="#2a63b0"/>
<polygon points="983.9,1764.01 993.22,1770.78 989.66,1781.74 978.14,1781.74 974.58,1770.78" fill="#fff" stroke="#2a63b0" stroke-width="1.1"/>
<polygon points="1004.5,1797.06 1013.82,1803.83 1010.26,1814.79 998.74,1814.79 995.18,1803.83" fill="#2a63b0"/>
<polygon points="1008.9,1863.16 1018.22,1869.93 1014.66,1880.89 1003.14,1880.89 999.58,1869.93" fill="#2a63b0"/>
<polygon points="1016.5,1929.26 1025.82,1936.03 1022.26,1946.99 1010.74,1946.99 1007.18,1936.03" fill="#2a63b0"/>
<rect x="942.6" y="1687.88" width="252.6" height="343.72" fill="none" stroke="#000" stroke-width="2.6"/>
<path d="M942.6 1687.88V1679.38M967.86 1687.88V1683.38M993.12 1687.88V1679.38M1018.38 1687.88V1683.38M1043.64 1687.88V1679.38M1068.9 1687.88V1683.38M1094.16 1687.88V1679.38M1119.42 1687.88V1683.38M1144.68 1687.88V1679.38M1169.94 1687.88V1683.38M1195.2 1687.88V1679.38M942.6 1701.1H934.6M942.6 1734.15H938.1M942.6 1767.2H934.6M942.6 1800.25H938.1M942.6 1833.3H934.6M942.6 1866.35H938.1M942.6 1899.4H934.6M942.6 1932.45H938.1M942.6 1965.5H934.6M942.6 1998.55H938.1M942.6 2031.6H934.6" stroke="#000" stroke-width="2.5" fill="none"/>
<g font-family="Liberation Serif, serif" font-weight="bold" font-size="24" fill="#000">
<text transform="translate(942.6 1668.98) scale(0.96 1.07)" text-anchor="middle">20</text>
<text transform="translate(993.12 1668.98) scale(0.96 1.07)" text-anchor="middle">30</text>
<text transform="translate(1043.64 1668.98) scale(0.96 1.07)" text-anchor="middle">40</text>
<text transform="translate(1094.16 1668.98) scale(0.96 1.07)" text-anchor="middle">50</text>
<text transform="translate(1144.68 1668.98) scale(0.96 1.07)" text-anchor="middle">60</text>
<text transform="translate(1195.2 1668.98) scale(0.96 1.07)" text-anchor="middle">70</text>
<text transform="translate(929.3 1708) scale(0.96 1.07)" text-anchor="end">0</text>
<text transform="translate(929.3 1774.1) scale(0.96 1.07)" text-anchor="end">50</text>
<text transform="translate(929.3 1840.2) scale(0.96 1.07)" text-anchor="end">100</text>
<text transform="translate(929.3 1906.3) scale(0.96 1.07)" text-anchor="end">150</text>
<text transform="translate(929.3 1972.4) scale(0.96 1.07)" text-anchor="end">200</text>
<text transform="translate(929.3 2038.5) scale(0.96 1.07)" text-anchor="end">250</text>
</g>
<g font-family="Liberation Serif, serif" font-weight="bold" font-size="27" fill="#000" text-anchor="middle">
<text x="1130.7" y="1976">Propylene</text>
<text x="1130.7" y="2013.7">(pmol L<tspan font-size="17" dy="-11.8">-1</tspan><tspan dy="11.8" dx="1">)</tspan></text>
</g>
<rect x="162" y="2101.28" width="252.6" height="343.72" fill="#c1e2d3"/>
<path d="M231.28 2122.74L386.22 2145.92M387.6 2153.1L338.7 2181.66M318.61 2190.17L221.39 2217.3M211.23 2231.25L212.97 2275.37M211.26 2297.15L202.44 2341.67M204.31 2362.7L214.39 2388.49" stroke="#474747" stroke-width="2.9" stroke-linecap="round" fill="none"/>
<rect x="212.8" y="2113.51" width="15.2" height="15.2" fill="#505050"/>
<rect x="389.5" y="2139.95" width="15.2" height="15.2" fill="#505050"/>
<rect x="321.6" y="2179.61" width="15.2" height="15.2" fill="#fff" stroke="#555" stroke-width="1.1"/>
<rect x="203.2" y="2212.66" width="15.2" height="15.2" fill="#505050"/>
<rect x="205.8" y="2278.76" width="15.2" height="15.2" fill="#505050"/>
<rect x="192.7" y="2344.86" width="15.2" height="15.2" fill="#505050"/>
<rect x="210.8" y="2391.13" width="15.2" height="15.2" fill="#505050"/>
<path d="M219.09 2123.27L329.51 2145.39M331.12 2153.61L289.38 2181.15M270.88 2193.05L236.82 2214.42M224.9 2230.95L214 2275.67M215.77 2296.46L235.63 2342.36" stroke="#e43a3a" stroke-width="2.9" stroke-linecap="round" fill="none"/>
<circle cx="208.3" cy="2121.11" r="8.3" fill="#e23d3d"/>
<circle cx="340.3" cy="2147.55" r="8.3" fill="#e23d3d"/>
<circle cx="280.2" cy="2187.21" r="8.3" fill="#fff" stroke="#e8503a" stroke-width="1.1"/>
<circle cx="227.5" cy="2220.26" r="8.3" fill="#e23d3d"/>
<circle cx="211.4" cy="2286.36" r="8.3" fill="#e23d3d"/>
<circle cx="240" cy="2352.46" r="8.3" fill="#e23d3d"/>
<rect x="162" y="2101.28" width="252.6" height="343.72" fill="none" stroke="#000" stroke-width="2.6"/>
<path d="M162 2101.28V2092.78M183.05 2101.28V2096.78M204.1 2101.28V2092.78M225.15 2101.28V2096.78M246.2 2101.28V2092.78M267.25 2101.28V2096.78M288.3 2101.28V2092.78M309.35 2101.28V2096.78M330.4 2101.28V2092.78M351.45 2101.28V2096.78M372.5 2101.28V2092.78M393.55 2101.28V2096.78M414.6 2101.28V2092.78M162 2114.5H154M162 2147.55H157.5M162 2180.6H154M162 2213.65H157.5M162 2246.7H154M162 2279.75H157.5M162 2312.8H154M162 2345.85H157.5M162 2378.9H154M162 2411.95H157.5M162 2445H154" stroke="#000" stroke-width="2.5" fill="none"/>
<g font-family="Liberation Serif, serif" font-weight="bold" font-size="24" fill="#000">
<text transform="translate(162 2082.38) scale(0.96 1.07)" text-anchor="middle">0</text>
<text transform="translate(204.1 2082.38) scale(0.96 1.07)" text-anchor="middle">5</text>
<text transform="translate(246.2 2082.38) scale(0.96 1.07)" text-anchor="middle">10</text>
<text transform="translate(288.3 2082.38) scale(0.96 1.07)" text-anchor="middle">15</text>
<text transform="translate(330.4 2082.38) scale(0.96 1.07)" text-anchor="middle">20</text>
<text transform="translate(372.5 2082.38) scale(0.96 1.07)" text-anchor="middle">25</text>
<text transform="translate(414.6 2082.38) scale(0.96 1.07)" text-anchor="middle">30</text>
<text transform="translate(148.7 2121.4) scale(0.96 1.07)" text-anchor="end">0</text>
<text transform="translate(148.7 2187.5) scale(0.96 1.07)" text-anchor="end">50</text>
<text transform="translate(148.7 2253.6) scale(0.96 1.07)" text-anchor="end">100</text>
<text transform="translate(148.7 2319.7) scale(0.96 1.07)" text-anchor="end">150</text>
<text transform="translate(148.7 2385.8) scale(0.96 1.07)" text-anchor="end">200</text>
<text transform="translate(148.7 2451.9) scale(0.96 1.07)" text-anchor="end">250</text>
</g>
<rect x="552.2" y="2101.28" width="252.6" height="343.72" fill="#f4c2c3"/>
<path d="M609.69 2123.26L720.51 2145.4M722.1 2153.58L680 2181.18M661.45 2193.01L626.85 2214.46M614.9 2230.95L604 2275.67M605.79 2296.44L625.81 2342.38" stroke="#474747" stroke-width="2.9" stroke-linecap="round" fill="none"/>
<polygon points="598.9,2109.68 608.8,2126.83 589,2126.83" fill="#505050"/>
<polygon points="731.3,2136.12 741.2,2153.27 721.4,2153.27" fill="#505050"/>
<polygon points="670.8,2175.78 680.7,2192.93 660.9,2192.93" fill="#fff" stroke="#555" stroke-width="1.1"/>
<polygon points="617.5,2208.83 627.4,2225.98 607.6,2225.98" fill="#505050"/>
<polygon points="601.4,2274.93 611.3,2292.08 591.5,2292.08" fill="#505050"/>
<polygon points="630.2,2341.03 640.1,2358.18 620.3,2358.18" fill="#505050"/>
<path d="M637.85 2131.99L638.55 2136.67M650.33 2151.85L723.57 2182.91M723.3 2190.79L648 2216.68M633.65 2230.53L628.85 2243.04M620.23 2263.27L614.07 2276.4M606.74 2297.03L595.56 2341.79" stroke="#e43a3a" stroke-width="2.9" stroke-linecap="round" fill="none"/>
<polygon points="636.2,2132.54 646.1,2115.39 626.3,2115.39" fill="#e23d3d"/>
<polygon points="640.2,2158.98 650.1,2141.83 630.3,2141.83" fill="#e23d3d"/>
<polygon points="733.7,2198.64 743.6,2181.49 723.8,2181.49" fill="#e23d3d"/>
<polygon points="637.6,2231.69 647.5,2214.54 627.7,2214.54" fill="#e23d3d"/>
<polygon points="624.9,2264.74 634.8,2247.59 615,2247.59" fill="#fff" stroke="#e8503a" stroke-width="1.1"/>
<polygon points="609.4,2297.79 619.3,2280.64 599.5,2280.64" fill="#e23d3d"/>
<polygon points="592.9,2363.89 602.8,2346.74 583,2346.74" fill="#e23d3d"/>
<path d="M616.76 2123.39L719.94 2145.27M720.93 2152.61L600.07 2215.2M589.64 2231.24L586.96 2275.38M585.69 2297.34L583.21 2341.48" stroke="#2462b3" stroke-width="2.9" stroke-linecap="round" fill="none"/>
<polygon points="606,2110.81 616.3,2121.11 606,2131.41 595.7,2121.11" fill="#2a63b0"/>
<polygon points="730.7,2137.25 741,2147.55 730.7,2157.85 720.4,2147.55" fill="#fff" stroke="#2a63b0" stroke-width="1.1"/>
<polygon points="590.3,2209.96 600.6,2220.26 590.3,2230.56 580,2220.26" fill="#2a63b0"/>
<polygon points="586.3,2276.06 596.6,2286.36 586.3,2296.66 576,2286.36" fill="#2a63b0"/>
<polygon points="582.6,2342.16 592.9,2352.46 582.6,2362.76 572.3,2352.46" fill="#2a63b0"/>
<rect x="552.2" y="2101.28" width="252.6" height="343.72" fill="none" stroke="#000" stroke-width="2.6"/>
<path d="M552.2 2101.28V2092.78M573.25 2101.28V2096.78M594.3 2101.28V2092.78M615.35 2101.28V2096.78M636.4 2101.28V2092.78M657.45 2101.28V2096.78M678.5 2101.28V2092.78M699.55 2101.28V2096.78M720.6 2101.28V2092.78M741.65 2101.28V2096.78M762.7 2101.28V2092.78M783.75 2101.28V2096.78M804.8 2101.28V2092.78M552.2 2114.5H544.2M552.2 2147.55H547.7M552.2 2180.6H544.2M552.2 2213.65H547.7M552.2 2246.7H544.2M552.2 2279.75H547.7M552.2 2312.8H544.2M552.2 2345.85H547.7M552.2 2378.9H544.2M552.2 2411.95H547.7M552.2 2445H544.2" stroke="#000" stroke-width="2.5" fill="none"/>
<g font-family="Liberation Serif, serif" font-weight="bold" font-size="24" fill="#000">
<text transform="translate(552.2 2082.38) scale(0.96 1.07)" text-anchor="middle">0</text>
<text transform="translate(594.3 2082.38) scale(0.96 1.07)" text-anchor="middle">5</text>
<text transform="translate(636.4 2082.38) scale(0.96 1.07)" text-anchor="middle">10</text>
<text transform="translate(678.5 2082.38) scale(0.96 1.07)" text-anchor="middle">15</text>
<text transform="translate(720.6 2082.38) scale(0.96 1.07)" text-anchor="middle">20</text>
<text transform="translate(762.7 2082.38) scale(0.96 1.07)" text-anchor="middle">25</text>
<text transform="translate(804.8 2082.38) scale(0.96 1.07)" text-anchor="middle">30</text>
<text transform="translate(538.9 2121.4) scale(0.96 1.07)" text-anchor="end">0</text>
<text transform="translate(538.9 2187.5) scale(0.96 1.07)" text-anchor="end">50</text>
<text transform="translate(538.9 2253.6) scale(0.96 1.07)" text-anchor="end">100</text>
<text transform="translate(538.9 2319.7) scale(0.96 1.07)" text-anchor="end">150</text>
<text transform="translate(538.9 2385.8) scale(0.96 1.07)" text-anchor="end">200</text>
<text transform="translate(538.9 2451.9) scale(0.96 1.07)" text-anchor="end">250</text>
</g>
<rect x="942.6" y="2101.28" width="252.6" height="343.72" fill="#f4c2c3"/>
<path d="M1017.57 2127.34L1095.73 2180.98M1094.14 2189.91L984.86 2217.56M973.87 2231.25L972.53 2275.37M977.16 2296.18L983.94 2309.59" stroke="#474747" stroke-width="2.9" stroke-linecap="round" fill="none"/>
<polygon points="1008.5,2112.11 1016.29,2116.61 1016.29,2125.61 1008.5,2130.11 1000.71,2125.61 1000.71,2116.61" fill="#505050"/>
<polygon points="1104.8,2178.21 1112.59,2182.71 1112.59,2191.71 1104.8,2196.21 1097.01,2191.71 1097.01,2182.71" fill="#fff" stroke="#555" stroke-width="1.1"/>
<polygon points="974.2,2211.26 981.99,2215.76 981.99,2224.76 974.2,2229.26 966.41,2224.76 966.41,2215.76" fill="#505050"/>
<polygon points="972.2,2277.36 979.99,2281.86 979.99,2290.86 972.2,2295.36 964.41,2290.86 964.41,2281.86" fill="#505050"/>
<polygon points="988.9,2310.41 996.69,2314.91 996.69,2323.91 988.9,2328.41 981.11,2323.91 981.11,2314.91" fill="#505050"/>
<path d="M1023.19 2131.8L1024.41 2136.86M1034.6 2155.5L1057.3 2179.26M1055.16 2192.33L1011.74 2215.14M1001.4 2231.24L995.4 2341.48" stroke="#e43a3a" stroke-width="2.9" stroke-linecap="round" fill="none"/>
<polygon points="1020.6,2111.41 1023.2,2117.53 1029.83,2118.11 1024.81,2122.48 1026.3,2128.96 1020.6,2125.53 1014.9,2128.96 1016.39,2122.48 1011.37,2118.11 1018,2117.53" fill="#e23d3d"/>
<polygon points="1027,2137.85 1029.6,2143.97 1036.23,2144.55 1031.21,2148.92 1032.7,2155.4 1027,2151.97 1021.3,2155.4 1022.79,2148.92 1017.77,2144.55 1024.4,2143.97" fill="#e23d3d"/>
<polygon points="1064.9,2177.51 1067.5,2183.63 1074.13,2184.21 1069.11,2188.58 1070.6,2195.06 1064.9,2191.63 1059.2,2195.06 1060.69,2188.58 1055.67,2184.21 1062.3,2183.63" fill="#fff" stroke="#e8503a" stroke-width="1.1"/>
<polygon points="1002,2210.56 1004.6,2216.68 1011.23,2217.26 1006.21,2221.63 1007.7,2228.11 1002,2224.68 996.3,2228.11 997.79,2221.63 992.77,2217.26 999.4,2216.68" fill="#e23d3d"/>
<polygon points="994.8,2342.76 997.4,2348.88 1004.03,2349.46 999.01,2353.83 1000.5,2360.31 994.8,2356.88 989.1,2360.31 990.59,2353.83 985.57,2349.46 992.2,2348.88" fill="#e23d3d"/>
<path d="M1028.94 2129.8L1035.96 2138.86M1043.25 2158.54L1044.15 2176.22M1034.95 2192.29L991.05 2215.18M982.06 2231.23L985.14 2275.39M985.07 2297.33L981.73 2341.49" stroke="#2462b3" stroke-width="2.9" stroke-linecap="round" fill="none"/>
<polygon points="1022.2,2111.31 1031.52,2118.08 1027.96,2129.04 1016.44,2129.04 1012.88,2118.08" fill="#2a63b0"/>
<polygon points="1042.7,2137.75 1052.02,2144.52 1048.46,2155.48 1036.94,2155.48 1033.38,2144.52" fill="#2a63b0"/>
<polygon points="1044.7,2177.41 1054.02,2184.18 1050.46,2195.14 1038.94,2195.14 1035.38,2184.18" fill="#fff" stroke="#2a63b0" stroke-width="1.1"/>
<polygon points="981.3,2210.46 990.62,2217.23 987.06,2228.19 975.54,2228.19 971.98,2217.23" fill="#2a63b0"/>
<polygon points="985.9,2276.56 995.22,2283.33 991.66,2294.29 980.14,2294.29 976.58,2283.33" fill="#2a63b0"/>
<polygon points="980.9,2342.66 990.22,2349.43 986.66,2360.39 975.14,2360.39 971.58,2349.43" fill="#2a63b0"/>
<rect x="942.6" y="2101.28" width="252.6" height="343.72" fill="none" stroke="#000" stroke-width="2.6"/>
<path d="M942.6 2101.28V2092.78M963.65 2101.28V2096.78M984.7 2101.28V2092.78M1005.75 2101.28V2096.78M1026.8 2101.28V2092.78M1047.85 2101.28V2096.78M1068.9 2101.28V2092.78M1089.95 2101.28V2096.78M1111 2101.28V2092.78M1132.05 2101.28V2096.78M1153.1 2101.28V2092.78M1174.15 2101.28V2096.78M1195.2 2101.28V2092.78M942.6 2114.5H934.6M942.6 2147.55H938.1M942.6 2180.6H934.6M942.6 2213.65H938.1M942.6 2246.7H934.6M942.6 2279.75H938.1M942.6 2312.8H934.6M942.6 2345.85H938.1M942.6 2378.9H934.6M942.6 2411.95H938.1M942.6 2445H934.6" stroke="#000" stroke-width="2.5" fill="none"/>
<g font-family="Liberation Serif, serif" font-weight="bold" font-size="24" fill="#000">
<text transform="translate(942.6 2082.38) scale(0.96 1.07)" text-anchor="middle">0</text>
<text transform="translate(984.7 2082.38) scale(0.96 1.07)" text-anchor="middle">5</text>
<text transform="translate(1026.8 2082.38) scale(0.96 1.07)" text-anchor="middle">10</text>
<text transform="translate(1068.9 2082.38) scale(0.96 1.07)" text-anchor="middle">15</text>
<text transform="translate(1111 2082.38) scale(0.96 1.07)" text-anchor="middle">20</text>
<text transform="translate(1153.1 2082.38) scale(0.96 1.07)" text-anchor="middle">25</text>
<text transform="translate(1195.2 2082.38) scale(0.96 1.07)" text-anchor="middle">30</text>
<text transform="translate(929.3 2121.4) scale(0.96 1.07)" text-anchor="end">0</text>
<text transform="translate(929.3 2187.5) scale(0.96 1.07)" text-anchor="end">50</text>
<text transform="translate(929.3 2253.6) scale(0.96 1.07)" text-anchor="end">100</text>
<text transform="translate(929.3 2319.7) scale(0.96 1.07)" text-anchor="end">150</text>
<text transform="translate(929.3 2385.8) scale(0.96 1.07)" text-anchor="end">200</text>
<text transform="translate(929.3 2451.9) scale(0.96 1.07)" text-anchor="end">250</text>
</g>
<g font-family="Liberation Serif, serif" font-weight="bold" font-size="27" fill="#000" text-anchor="middle">
<text x="1123" y="2387.8">Isoprene</text>
<text x="1123" y="2424.8">(pmol L<tspan font-size="17" dy="-11.8">-1</tspan><tspan dy="11.8" dx="1">)</tspan></text>
</g>
<rect x="419.5" y="54.5" width="83" height="56" fill="#fff" stroke="#2b2b2b" stroke-width="1.15"/>
<path d="M421.6 69.3H436M456.8 69.3H471.2" stroke="#474747" stroke-width="2.4" stroke-linecap="round"/>
<rect x="438.8" y="61.7" width="15.2" height="15.2" fill="#505050"/>
<text x="476" y="76.4" font-family="Liberation Serif, serif" font-size="21" fill="#000">E1</text>
<path d="M421.6 95.4H436M456.8 95.4H471.2" stroke="#e43a3a" stroke-width="2.4" stroke-linecap="round"/>
<circle cx="446.4" cy="95.4" r="8.3" fill="#e23d3d"/>
<text x="476" y="102.5" font-family="Liberation Serif, serif" font-size="21" fill="#000">E2</text>
<rect x="810.5" y="51.5" width="82" height="82" fill="#fff" stroke="#2b2b2b" stroke-width="1.15"/>
<path d="M812.8 66.2H826.7M847.6 66.2H862" stroke="#474747" stroke-width="2.4" stroke-linecap="round"/>
<polygon points="837.4,54.77 847.3,71.92 827.5,71.92" fill="#505050"/>
<text x="866.3" y="73.3" font-family="Liberation Serif, serif" font-size="21" fill="#000">E4</text>
<path d="M812.8 92.5H826.7M847.6 92.5H862" stroke="#e43a3a" stroke-width="2.4" stroke-linecap="round"/>
<polygon points="837.4,103.93 847.3,86.78 827.5,86.78" fill="#e23d3d"/>
<text x="866.3" y="99.6" font-family="Liberation Serif, serif" font-size="21" fill="#000">E5</text>
<path d="M812.8 118.9H826.7M847.6 118.9H862" stroke="#2462b3" stroke-width="2.4" stroke-linecap="round"/>
<polygon points="837.4,108.6 847.7,118.9 837.4,129.2 827.1,118.9" fill="#2a63b0"/>
<text x="866.3" y="126" font-family="Liberation Serif, serif" font-size="21" fill="#000">E6</text>
<rect x="1201.5" y="48.5" width="83" height="82" fill="#fff" stroke="#2b2b2b" stroke-width="1.15"/>
<path d="M1204 62.8H1218.3M1239 62.8H1253.2" stroke="#474747" stroke-width="2.4" stroke-linecap="round"/>
<polygon points="1228.4,53.8 1236.19,58.3 1236.19,67.3 1228.4,71.8 1220.61,67.3 1220.61,58.3" fill="#505050"/>
<text x="1258" y="69.9" font-family="Liberation Serif, serif" font-size="21" fill="#000">E7</text>
<path d="M1204 89H1218.3M1239 89H1253.2" stroke="#e43a3a" stroke-width="2.4" stroke-linecap="round"/>
<polygon points="1228.4,79.3 1231,85.42 1237.63,86 1232.61,90.37 1234.1,96.85 1228.4,93.42 1222.7,96.85 1224.19,90.37 1219.17,86 1225.8,85.42" fill="#e23d3d"/>
<text x="1258" y="96.1" font-family="Liberation Serif, serif" font-size="21" fill="#000">E8</text>
<path d="M1204 115.2H1218.3M1239 115.2H1253.2" stroke="#2462b3" stroke-width="2.4" stroke-linecap="round"/>
<polygon points="1228.4,105.4 1237.72,112.17 1234.16,123.13 1222.64,123.13 1219.08,112.17" fill="#2a63b0"/>
<text x="1258" y="122.3" font-family="Liberation Serif, serif" font-size="21" fill="#000">E9</text>
<text transform="translate(53.3 1210) rotate(-90)" text-anchor="middle" font-family="Liberation Serif, serif" font-weight="bold" font-size="72" letter-spacing="2.5" fill="#231815">Depth (m)</text>
<g font-family="Liberation Serif, serif" font-weight="bold" font-size="36.5">
<text x="183.2" y="2487" fill="#10994a">Eddy outside</text>
<text x="599.7" y="2487" fill="#e60012">Eddy core</text>
<text x="995.7" y="2487" fill="#e60012">Eddy core</text>
</g>
</svg>
</body></html>
